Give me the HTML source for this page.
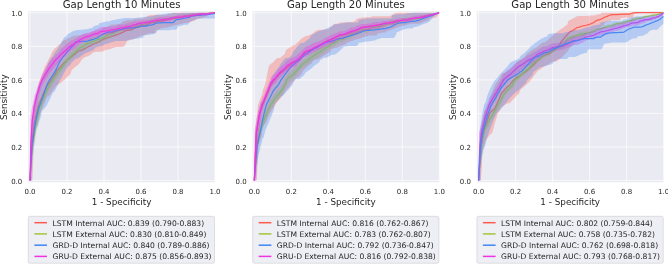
<!DOCTYPE html>
<html><head><meta charset="utf-8"><title>ROC curves</title>
<style>html,body{margin:0;padding:0;background:#fff}svg{display:block}text{font-family:"DejaVu Sans","Liberation Sans",sans-serif;fill:#262626}</style></head>
<body>
<svg width="668" height="264" viewBox="0 0 668 264">
<rect width="668" height="264" fill="#fff"/>
<defs><clipPath id="c0"><rect x="28.1" y="11.1" width="186.8" height="171.2"/></clipPath><clipPath id="c1"><rect x="252.5" y="11.1" width="186.8" height="171.2"/></clipPath><clipPath id="c2"><rect x="476.8" y="11.1" width="186.9" height="171.2"/></clipPath><filter id="bl" x="-5%" y="-5%" width="110%" height="110%"><feGaussianBlur stdDeviation="0.3"/></filter></defs>
<g>
<rect x="28.1" y="11.1" width="186.8" height="171.2" fill="#eaeaf2"/>
<path d="M30.0 11.1V182.3M28.1 180.6H215.0M67.0 11.1V182.3M28.1 147.0H215.0M104.0 11.1V182.3M28.1 113.4H215.0M141.0 11.1V182.3M28.1 79.9H215.0M178.0 11.1V182.3M28.1 46.3H215.0M215.0 11.1V182.3M28.1 12.7H215.0" stroke="#fff" stroke-width="0.7" fill="none" clip-path="url(#c0)"/>
<g clip-path="url(#c0)">
<polygon fill="#ff5a4d" fill-opacity="0.32" points="30.0,180.6 30.4,152.3 30.7,136.0 31.1,131.3 31.5,126.6 31.9,121.9 32.2,117.2 32.6,112.7 33.0,108.0 33.3,106.5 33.7,105.0 34.1,103.5 34.4,102.0 34.8,100.5 35.2,99.0 35.5,97.2 35.9,95.7 36.3,94.2 36.7,92.7 37.0,91.2 37.4,89.4 37.8,87.9 38.1,86.4 38.5,84.9 38.9,83.7 39.2,82.6 40.2,80.0 41.1,77.4 42.0,74.8 43.0,72.3 43.9,69.7 44.8,67.1 45.7,65.2 46.6,63.4 47.6,61.5 48.5,59.6 49.4,57.7 50.4,55.9 51.3,54.0 52.2,52.1 53.1,50.7 54.0,49.4 55.0,48.1 55.9,48.1 56.8,46.8 57.8,45.7 58.7,45.1 59.6,44.6 60.5,44.1 61.4,43.6 62.4,41.3 63.3,40.8 64.2,40.3 65.2,39.7 66.1,39.2 67.0,38.7 67.9,38.4 68.8,38.0 69.8,37.7 70.7,37.4 71.6,36.6 72.5,36.3 73.5,35.9 74.4,35.6 75.3,35.6 76.2,35.6 77.2,35.6 78.1,35.6 79.0,35.6 80.0,35.5 80.9,35.2 81.8,34.9 82.7,34.5 83.7,34.2 84.6,33.9 85.5,33.9 86.4,33.9 87.3,33.8 88.3,33.5 89.2,33.3 90.1,33.0 91.1,32.2 92.0,32.0 92.9,31.7 93.8,31.5 94.8,31.2 95.7,31.0 96.6,30.7 97.5,30.5 98.5,30.2 99.4,30.0 100.3,29.7 101.2,29.5 102.2,29.2 103.1,27.8 104.0,27.6 104.9,27.3 105.8,27.1 106.8,26.8 107.7,26.6 108.6,26.3 109.5,25.3 110.5,25.0 111.4,24.8 112.3,24.5 113.2,24.5 114.2,24.5 115.1,24.5 116.0,24.5 116.9,24.5 117.9,24.2 118.8,24.0 119.7,23.7 120.6,23.5 121.6,23.2 122.5,21.5 123.4,21.3 124.4,21.0 125.3,20.8 126.2,20.6 127.1,20.3 128.1,20.1 129.0,20.1 129.9,20.1 130.8,20.1 131.8,20.1 132.7,20.1 133.6,19.3 134.5,19.1 135.5,18.8 136.4,18.6 137.3,18.6 138.2,18.6 139.2,18.6 140.1,18.6 141.0,18.6 141.9,18.6 142.9,18.4 143.8,18.1 144.7,17.8 145.6,17.5 146.6,17.2 147.5,16.0 148.4,15.7 149.3,15.4 150.2,15.1 151.2,15.1 152.1,15.1 153.0,15.0 153.9,15.0 154.9,15.0 155.8,14.9 156.7,14.9 157.7,14.9 158.6,14.9 159.5,14.9 160.4,14.9 161.4,14.9 162.3,14.9 163.2,14.9 164.1,14.9 165.1,14.9 166.0,14.9 166.9,14.7 167.8,14.0 168.8,14.0 169.7,14.0 170.6,13.9 171.5,13.9 172.5,12.7 173.4,12.7 174.3,12.7 175.2,12.7 176.2,12.7 177.1,12.7 178.0,12.7 178.9,12.7 179.9,12.7 180.8,12.7 181.7,12.7 182.6,12.7 183.6,12.7 184.5,12.7 185.4,12.7 186.3,12.7 187.3,12.7 188.2,12.7 189.1,12.7 190.0,12.7 191.0,12.7 191.9,12.7 192.8,12.7 193.7,12.7 194.7,12.7 195.6,12.7 196.5,12.7 197.4,12.7 198.3,12.7 199.3,12.7 200.2,12.7 201.1,12.7 202.1,12.7 203.0,12.7 203.9,12.7 204.8,12.7 205.8,12.7 206.7,12.7 207.6,12.7 208.5,12.7 209.5,12.7 210.4,12.7 211.3,12.7 212.2,12.7 213.2,12.7 214.1,12.7 215.0,12.7 215.0,12.7 214.1,13.1 213.2,13.3 212.2,13.3 211.3,13.3 210.4,13.5 209.5,13.6 208.5,13.8 207.6,14.0 206.7,16.4 205.8,16.8 204.8,17.0 203.9,17.3 203.0,17.5 202.1,17.7 201.1,17.9 200.2,18.1 199.3,18.4 198.3,18.6 197.4,19.1 196.5,19.6 195.6,20.1 194.7,20.6 193.7,21.1 192.8,21.2 191.9,21.2 191.0,21.7 190.0,22.2 189.1,22.7 188.2,22.7 187.3,22.7 186.3,22.7 185.4,22.9 184.5,23.1 183.6,23.3 182.6,23.6 181.7,23.8 180.8,24.0 179.9,24.2 178.9,24.5 178.0,24.7 177.1,24.9 176.2,25.1 175.2,25.2 174.3,25.4 173.4,25.6 172.5,25.9 171.5,26.2 170.6,26.4 169.7,26.7 168.8,27.0 167.8,27.3 166.9,27.6 166.0,27.7 165.1,27.7 164.1,27.7 163.2,28.0 162.3,28.3 161.4,28.5 160.4,28.8 159.5,29.1 158.6,29.4 157.7,29.6 156.7,29.9 155.8,30.2 154.9,33.3 153.9,33.3 153.0,33.3 152.1,33.3 151.2,33.3 150.2,33.3 149.3,33.3 148.4,33.6 147.5,33.9 146.6,34.2 145.6,34.6 144.7,34.9 143.8,35.2 142.9,35.5 141.9,35.8 141.0,36.1 140.1,36.5 139.2,36.8 138.2,37.1 137.3,37.7 136.4,38.0 135.5,38.3 134.5,38.6 133.6,38.9 132.7,39.2 131.8,39.5 130.8,39.8 129.9,40.1 129.0,40.4 128.1,40.6 127.1,41.3 126.2,42.6 125.3,44.8 124.4,46.1 123.4,46.4 122.5,46.8 121.6,46.9 120.6,46.9 119.7,46.9 118.8,46.9 117.9,46.9 116.9,46.9 116.0,46.9 115.1,47.3 114.2,47.6 113.2,47.9 112.3,48.3 111.4,48.6 110.5,48.9 109.5,49.3 108.6,49.4 107.7,49.6 106.8,49.8 105.8,49.9 104.9,50.1 104.0,51.1 103.1,51.3 102.2,51.4 101.2,51.6 100.3,51.8 99.4,51.8 98.5,51.8 97.5,51.8 96.6,51.8 95.7,51.8 94.8,52.1 93.8,52.4 92.9,52.6 92.0,53.2 91.1,54.4 90.1,55.0 89.2,55.5 88.3,56.1 87.3,56.5 86.4,56.5 85.5,57.0 84.6,57.6 83.7,58.1 82.7,58.7 81.8,59.8 80.9,61.1 80.0,62.4 79.0,63.7 78.1,65.0 77.2,65.5 76.2,66.2 75.3,67.0 74.4,67.7 73.5,68.4 72.5,69.2 71.6,69.9 70.7,73.6 69.8,74.5 68.8,75.4 67.9,76.3 67.0,77.2 66.1,78.1 65.2,79.0 64.2,79.9 63.3,80.8 62.4,81.5 61.4,82.2 60.5,82.9 59.6,83.5 58.7,84.1 57.8,84.8 56.8,85.5 55.9,86.1 55.0,87.5 54.0,88.8 53.1,90.1 52.2,91.5 51.3,92.8 50.4,94.2 49.4,95.5 48.5,96.2 47.6,96.2 46.6,97.6 45.7,99.7 44.8,101.9 43.9,104.0 43.0,106.7 42.0,108.8 41.1,111.0 40.2,113.1 39.2,116.5 38.9,117.8 38.5,119.2 38.1,120.5 37.8,121.9 37.4,123.2 37.0,124.5 36.7,125.9 36.3,127.2 35.9,129.1 35.5,130.4 35.2,132.9 34.8,135.5 34.4,138.2 34.1,140.8 33.7,143.4 33.3,146.0 33.0,148.7 32.6,151.3 32.2,153.9 31.9,158.4 31.5,162.8 31.1,167.3 30.7,171.8 30.4,176.3 30.0,180.6"/>
<polyline fill="none" stroke="#ff5a4d" stroke-width="1.25" stroke-opacity="0.95" stroke-linejoin="round" filter="url(#bl)" points="30.0,180.6 30.4,172.2 30.7,163.8 31.1,155.4 31.5,147.0 31.9,144.0 32.2,141.1 32.6,138.1 33.0,135.1 33.3,132.2 33.7,129.2 34.1,126.2 34.4,123.2 34.8,120.9 35.2,119.2 35.5,117.3 35.9,115.8 36.3,114.1 36.7,112.5 37.0,110.8 37.4,109.1 37.8,107.4 38.1,106.1 38.5,104.8 38.9,104.0 39.2,103.2 40.2,101.1 41.1,99.1 42.0,97.0 43.0,94.3 43.9,92.3 44.8,90.2 45.7,88.7 46.6,86.6 47.6,85.2 48.5,83.8 49.4,82.4 50.4,81.1 51.3,79.7 52.2,78.3 53.1,77.2 54.0,75.8 55.0,74.4 55.9,73.0 56.8,71.0 57.8,69.6 58.7,68.7 59.6,67.8 60.5,66.7 61.4,65.8 62.4,64.8 63.3,63.8 64.2,62.8 65.2,61.9 66.1,61.2 67.0,60.2 67.9,59.5 68.8,58.9 69.8,58.1 70.7,57.3 71.6,56.6 72.5,55.8 73.5,55.1 74.4,54.4 75.3,53.7 76.2,52.9 77.2,52.0 78.1,51.5 79.0,51.0 80.0,50.5 80.9,50.5 81.8,50.1 82.7,49.6 83.7,49.1 84.6,48.6 85.5,48.3 86.4,47.8 87.3,47.3 88.3,46.8 89.2,46.3 90.1,45.9 91.1,45.2 92.0,44.8 92.9,44.3 93.8,43.9 94.8,43.5 95.7,43.3 96.6,42.9 97.5,42.5 98.5,42.0 99.4,41.6 100.3,40.7 101.2,40.2 102.2,39.8 103.1,39.4 104.0,38.9 104.9,38.6 105.8,38.3 106.8,38.1 107.7,37.8 108.6,37.5 109.5,37.1 110.5,36.8 111.4,36.5 112.3,36.2 113.2,35.9 114.2,35.6 115.1,35.3 116.0,35.1 116.9,34.7 117.9,34.3 118.8,34.0 119.7,33.6 120.6,33.1 121.6,32.8 122.5,32.4 123.4,32.0 124.4,31.4 125.3,31.1 126.2,30.7 127.1,30.4 128.1,30.4 129.0,30.4 129.9,30.2 130.8,29.9 131.8,29.6 132.7,29.3 133.6,28.4 134.5,28.1 135.5,27.8 136.4,27.5 137.3,27.1 138.2,26.8 139.2,26.8 140.1,26.6 141.0,26.3 141.9,26.0 142.9,25.8 143.8,25.5 144.7,25.5 145.6,25.3 146.6,25.1 147.5,24.8 148.4,23.6 149.3,23.4 150.2,23.1 151.2,22.9 152.1,22.6 153.0,22.4 153.9,22.4 154.9,22.2 155.8,21.9 156.7,21.7 157.7,21.4 158.6,21.3 159.5,21.1 160.4,21.1 161.4,21.1 162.3,21.0 163.2,20.8 164.1,20.6 165.1,20.4 166.0,20.2 166.9,19.6 167.8,19.4 168.8,19.2 169.7,19.0 170.6,18.8 171.5,18.7 172.5,18.5 173.4,18.5 174.3,18.4 175.2,18.2 176.2,18.0 177.1,17.8 178.0,17.7 178.9,17.5 179.9,17.5 180.8,17.4 181.7,17.2 182.6,16.3 183.6,16.1 184.5,16.0 185.4,15.9 186.3,15.9 187.3,15.9 188.2,15.8 189.1,15.8 190.0,15.8 191.0,15.8 191.9,15.8 192.8,15.7 193.7,15.5 194.7,15.4 195.6,14.9 196.5,14.7 197.4,14.6 198.3,14.5 199.3,14.4 200.2,14.3 201.1,14.1 202.1,14.0 203.0,13.9 203.9,13.9 204.8,13.9 205.8,13.9 206.7,13.9 207.6,13.7 208.5,13.6 209.5,13.4 210.4,13.3 211.3,13.2 212.2,13.0 213.2,12.9 214.1,12.8 215.0,12.7"/>
<polygon fill="#a4c639" fill-opacity="0.32" points="30.0,180.6 30.4,142.6 30.7,140.4 31.1,138.2 31.5,136.1 31.9,133.9 32.2,131.8 32.6,129.5 33.0,127.3 33.3,125.2 33.7,123.5 34.1,121.8 34.4,120.0 34.8,118.3 35.2,116.9 35.5,115.6 35.9,113.9 36.3,112.2 36.7,110.5 37.0,107.7 37.4,106.8 37.8,106.0 38.1,105.0 38.5,104.0 38.9,103.0 39.2,102.1 40.2,100.0 41.1,97.8 42.0,95.7 43.0,93.6 43.9,91.7 44.8,90.5 45.7,88.6 46.6,86.8 47.6,84.7 48.5,83.1 49.4,81.7 50.4,80.0 51.3,78.6 52.2,77.3 53.1,75.8 54.0,74.5 55.0,73.2 55.9,71.8 56.8,70.5 57.8,69.1 58.7,67.8 59.6,66.1 60.5,64.9 61.4,64.1 62.4,62.8 63.3,61.6 64.2,60.3 65.2,58.3 66.1,57.0 67.0,55.8 67.9,54.7 68.8,53.8 69.8,52.9 70.7,52.0 71.6,51.4 72.5,50.6 73.5,49.7 74.4,48.8 75.3,47.9 76.2,47.0 77.2,46.3 78.1,45.6 79.0,45.2 80.0,44.4 80.9,43.7 81.8,43.7 82.7,43.1 83.7,42.5 84.6,41.3 85.5,40.9 86.4,40.9 87.3,40.5 88.3,40.1 89.2,38.9 90.1,38.5 91.1,38.1 92.0,38.0 92.9,37.6 93.8,37.2 94.8,37.2 95.7,37.2 96.6,37.0 97.5,36.6 98.5,36.4 99.4,36.1 100.3,35.7 101.2,35.4 102.2,35.0 103.1,34.5 104.0,34.2 104.9,33.4 105.8,33.0 106.8,32.7 107.7,32.3 108.6,31.9 109.5,31.4 110.5,31.3 111.4,30.9 112.3,30.6 113.2,30.3 114.2,29.9 115.1,29.5 116.0,28.6 116.9,28.0 117.9,27.7 118.8,27.4 119.7,27.1 120.6,26.8 121.6,26.6 122.5,26.3 123.4,26.0 124.4,25.7 125.3,25.4 126.2,25.2 127.1,25.2 128.1,25.0 129.0,24.7 129.9,24.7 130.8,24.7 131.8,24.7 132.7,24.5 133.6,24.5 134.5,24.5 135.5,24.5 136.4,23.9 137.3,23.6 138.2,23.0 139.2,22.8 140.1,22.6 141.0,22.1 141.9,21.9 142.9,21.7 143.8,21.6 144.7,21.4 145.6,21.2 146.6,21.0 147.5,20.8 148.4,20.4 149.3,19.9 150.2,19.7 151.2,19.7 152.1,19.7 153.0,19.5 153.9,19.3 154.9,19.1 155.8,18.8 156.7,18.6 157.7,18.6 158.6,18.6 159.5,18.6 160.4,18.5 161.4,18.3 162.3,18.2 163.2,18.0 164.1,17.8 165.1,17.7 166.0,17.7 166.9,17.7 167.8,17.7 168.8,17.1 169.7,16.9 170.6,16.8 171.5,16.6 172.5,16.2 173.4,16.0 174.3,15.9 175.2,15.7 176.2,15.6 177.1,15.4 178.0,15.4 178.9,15.4 179.9,15.4 180.8,15.4 181.7,15.4 182.6,15.3 183.6,15.2 184.5,14.5 185.4,14.4 186.3,14.3 187.3,13.8 188.2,13.7 189.1,13.7 190.0,13.6 191.0,13.5 191.9,13.4 192.8,13.3 193.7,13.3 194.7,13.3 195.6,13.3 196.5,13.3 197.4,13.1 198.3,13.0 199.3,13.0 200.2,12.7 201.1,12.7 202.1,12.7 203.0,12.7 203.9,12.7 204.8,12.7 205.8,12.7 206.7,12.7 207.6,12.7 208.5,12.7 209.5,12.7 210.4,12.7 211.3,12.7 212.2,12.7 213.2,12.7 214.1,12.7 215.0,12.7 215.0,13.0 214.1,13.1 213.2,13.2 212.2,13.4 211.3,13.6 210.4,13.7 209.5,13.8 208.5,13.8 207.6,13.8 206.7,13.8 205.8,13.9 204.8,14.0 203.9,14.1 203.0,14.1 202.1,14.1 201.1,14.3 200.2,14.7 199.3,14.9 198.3,15.0 197.4,15.1 196.5,15.6 195.6,16.1 194.7,16.1 193.7,16.1 192.8,16.2 191.9,16.3 191.0,16.5 190.0,16.9 189.1,17.1 188.2,17.2 187.3,17.3 186.3,17.4 185.4,17.5 184.5,17.5 183.6,17.5 182.6,17.7 181.7,17.8 180.8,19.0 179.9,19.1 178.9,19.1 178.0,19.1 177.1,19.1 176.2,19.3 175.2,19.5 174.3,19.8 173.4,19.8 172.5,19.8 171.5,19.8 170.6,19.8 169.7,20.0 168.8,20.2 167.8,20.5 166.9,20.6 166.0,20.6 165.1,20.8 164.1,21.0 163.2,21.2 162.3,21.4 161.4,21.6 160.4,22.9 159.5,23.1 158.6,23.2 157.7,23.4 156.7,23.5 155.8,23.5 154.9,23.8 153.9,24.1 153.0,24.3 152.1,24.4 151.2,24.4 150.2,24.4 149.3,24.7 148.4,24.9 147.5,25.4 146.6,25.6 145.6,25.8 144.7,26.0 143.8,26.6 142.9,26.8 141.9,27.1 141.0,27.3 140.1,27.6 139.2,27.8 138.2,28.1 137.3,28.2 136.4,28.5 135.5,28.7 134.5,28.7 133.6,28.9 132.7,29.2 131.8,29.5 130.8,30.6 129.9,30.6 129.0,30.6 128.1,30.6 127.1,30.6 126.2,30.6 125.3,30.8 124.4,31.1 123.4,31.5 122.5,31.8 121.6,32.2 120.6,32.5 119.7,32.8 118.8,33.3 117.9,33.6 116.9,34.0 116.0,34.7 115.1,35.1 114.2,35.5 113.2,36.2 112.3,36.6 111.4,37.0 110.5,37.9 109.5,38.0 108.6,38.4 107.7,38.8 106.8,39.3 105.8,39.7 104.9,40.2 104.0,41.0 103.1,41.4 102.2,41.8 101.2,42.2 100.3,42.6 99.4,42.9 98.5,43.3 97.5,43.4 96.6,43.8 95.7,43.9 94.8,43.9 93.8,43.9 92.9,44.3 92.0,44.7 91.1,45.2 90.1,45.6 89.2,46.0 88.3,46.3 87.3,46.7 86.4,48.2 85.5,48.6 84.6,49.0 83.7,50.3 82.7,50.3 81.8,50.3 80.9,50.3 80.0,51.1 79.0,51.9 78.1,52.6 77.2,53.4 76.2,55.5 75.3,56.4 74.4,57.3 73.5,57.3 72.5,58.3 71.6,59.2 70.7,60.1 69.8,61.0 68.8,62.0 67.9,62.9 67.0,63.9 66.1,65.2 65.2,66.5 64.2,68.2 63.3,69.5 62.4,70.8 61.4,72.1 60.5,72.9 59.6,74.7 58.7,76.1 57.8,77.5 56.8,78.8 55.9,80.3 55.0,81.6 54.0,83.0 53.1,84.1 52.2,85.5 51.3,86.8 50.4,88.2 49.4,89.9 48.5,91.4 47.6,93.4 46.6,95.3 45.7,98.4 44.8,100.5 43.9,102.7 43.0,104.5 42.0,106.9 41.1,109.9 40.2,114.2 39.2,118.5 38.9,120.2 38.5,121.9 38.1,124.0 37.8,125.7 37.4,127.8 37.0,129.9 36.7,132.2 36.3,133.4 35.9,135.6 35.5,137.8 35.2,140.4 34.8,142.6 34.4,144.8 34.1,146.9 33.7,153.6 33.3,160.4 33.0,167.1 32.6,173.8 32.2,180.6 31.9,180.6 31.5,180.6 31.1,180.6 30.7,180.6 30.4,180.6 30.0,180.6"/>
<polyline fill="none" stroke="#a4c639" stroke-width="1.25" stroke-opacity="0.95" stroke-linejoin="round" filter="url(#bl)" points="30.0,180.6 30.4,173.8 30.7,167.1 31.1,160.4 31.5,153.7 31.9,147.0 32.2,144.9 32.6,142.7 33.0,140.5 33.3,138.3 33.7,136.2 34.1,134.0 34.4,131.8 34.8,129.6 35.2,127.4 35.5,125.3 35.9,123.6 36.3,121.9 36.7,120.2 37.0,118.5 37.4,116.7 37.8,115.0 38.1,113.3 38.5,111.6 38.9,109.9 39.2,108.2 40.2,106.0 41.1,103.4 42.0,101.3 43.0,99.1 43.9,97.0 44.8,94.8 45.7,93.0 46.6,90.8 47.6,88.7 48.5,87.1 49.4,85.7 50.4,84.0 51.3,82.6 52.2,81.3 53.1,79.9 54.0,78.5 55.0,77.2 55.9,75.8 56.8,74.4 57.8,73.1 58.7,71.7 59.6,70.4 60.5,69.1 61.4,68.3 62.4,67.0 63.3,65.7 64.2,64.5 65.2,62.8 66.1,61.6 67.0,60.3 67.9,59.2 68.8,58.2 69.8,57.3 70.7,56.4 71.6,55.6 72.5,54.6 73.5,53.7 74.4,52.8 75.3,51.9 76.2,51.0 77.2,50.2 78.1,49.5 79.0,48.8 80.0,48.0 80.9,47.3 81.8,47.3 82.7,46.7 83.7,46.2 84.6,45.0 85.5,44.6 86.4,44.1 87.3,43.7 88.3,43.3 89.2,43.1 90.1,42.7 91.1,42.2 92.0,41.8 92.9,41.4 93.8,41.0 94.8,40.8 95.7,40.4 96.6,40.0 97.5,39.7 98.5,39.5 99.4,39.1 100.3,38.8 101.2,38.4 102.2,38.0 103.1,37.6 104.0,37.3 104.9,36.5 105.8,36.1 106.8,35.7 107.7,35.3 108.6,34.9 109.5,34.5 110.5,34.3 111.4,33.9 112.3,33.5 113.2,33.1 114.2,32.7 115.1,32.3 116.0,31.9 116.9,31.3 117.9,31.0 118.8,30.6 119.7,30.3 120.6,30.0 121.6,29.7 122.5,29.4 123.4,29.1 124.4,28.7 125.3,28.5 126.2,28.2 127.1,28.0 128.1,27.7 129.0,27.5 129.9,27.5 130.8,27.5 131.8,27.5 132.7,27.2 133.6,27.0 134.5,26.7 135.5,26.5 136.4,26.2 137.3,26.0 138.2,25.3 139.2,25.1 140.1,24.8 141.0,24.6 141.9,24.4 142.9,24.2 143.8,24.0 144.7,23.6 145.6,23.4 146.6,23.2 147.5,23.0 148.4,22.6 149.3,22.4 150.2,22.2 151.2,22.2 152.1,22.2 153.0,22.0 153.9,21.8 154.9,21.6 155.8,21.2 156.7,21.0 157.7,20.8 158.6,20.6 159.5,20.5 160.4,20.3 161.4,20.1 162.3,20.0 163.2,19.8 164.1,19.6 165.1,19.4 166.0,19.4 166.9,19.4 167.8,19.4 168.8,18.6 169.7,18.4 170.6,18.3 171.5,18.1 172.5,18.1 173.4,17.9 174.3,17.7 175.2,17.6 176.2,17.4 177.1,17.2 178.0,17.2 178.9,17.2 179.9,17.2 180.8,17.1 181.7,17.0 182.6,16.9 183.6,16.8 184.5,15.9 185.4,15.7 186.3,15.6 187.3,15.5 188.2,15.4 189.1,15.3 190.0,15.2 191.0,15.1 191.9,15.0 192.8,14.9 193.7,14.8 194.7,14.8 195.6,14.8 196.5,14.8 197.4,14.5 198.3,14.4 199.3,14.2 200.2,14.1 201.1,14.0 202.1,13.9 203.0,13.9 203.9,13.9 204.8,13.9 205.8,13.8 206.7,13.6 207.6,13.5 208.5,13.4 209.5,13.4 210.4,13.3 211.3,13.2 212.2,13.1 213.2,12.9 214.1,12.8 215.0,12.7"/>
<polygon fill="#4285f4" fill-opacity="0.32" points="30.0,180.6 30.4,159.5 30.7,138.5 31.1,134.3 31.5,130.1 31.9,125.9 32.2,121.7 32.6,117.5 33.0,113.3 33.3,109.3 33.7,105.1 34.1,103.6 34.4,102.2 34.8,100.5 35.2,99.0 35.5,96.7 35.9,95.3 36.3,93.8 36.7,92.4 37.0,90.9 37.4,89.5 37.8,88.0 38.1,86.5 38.5,86.5 38.9,85.3 39.2,83.8 40.2,81.8 41.1,79.8 42.0,77.8 43.0,75.8 43.9,73.7 44.8,71.7 45.7,69.7 46.6,67.7 47.6,65.7 48.5,62.4 49.4,61.0 50.4,59.7 51.3,58.3 52.2,57.0 53.1,55.6 54.0,53.9 55.0,52.5 55.9,51.2 56.8,49.8 57.8,48.5 58.7,46.9 59.6,45.3 60.5,43.7 61.4,42.1 62.4,40.5 63.3,38.9 64.2,37.3 65.2,37.3 66.1,36.6 67.0,35.0 67.9,34.3 68.8,33.6 69.8,33.0 70.7,32.4 71.6,32.0 72.5,31.6 73.5,31.1 74.4,30.7 75.3,30.6 76.2,30.2 77.2,30.1 78.1,30.0 79.0,29.9 80.0,29.8 80.9,29.7 81.8,29.7 82.7,29.6 83.7,29.5 84.6,29.4 85.5,29.3 86.4,29.3 87.3,29.1 88.3,28.9 89.2,28.6 90.1,28.4 91.1,28.1 92.0,27.9 92.9,27.6 93.8,26.1 94.8,25.9 95.7,25.6 96.6,25.4 97.5,25.1 98.5,24.9 99.4,23.3 100.3,23.0 101.2,22.8 102.2,22.5 103.1,22.3 104.0,22.0 104.9,21.9 105.8,21.8 106.8,21.6 107.7,21.5 108.6,21.4 109.5,21.3 110.5,21.1 111.4,20.3 112.3,20.2 113.2,20.1 114.2,19.9 115.1,19.8 116.0,19.7 116.9,19.3 117.9,19.2 118.8,19.0 119.7,18.9 120.6,18.7 121.6,18.6 122.5,18.4 123.4,18.3 124.4,18.1 125.3,18.1 126.2,18.0 127.1,18.0 128.1,18.0 129.0,18.0 129.9,18.0 130.8,18.0 131.8,18.0 132.7,18.0 133.6,18.0 134.5,18.0 135.5,18.0 136.4,18.0 137.3,17.7 138.2,17.6 139.2,17.5 140.1,17.4 141.0,17.3 141.9,17.2 142.9,17.2 143.8,17.1 144.7,16.8 145.6,16.8 146.6,16.7 147.5,16.6 148.4,16.5 149.3,16.4 150.2,16.3 151.2,16.2 152.1,16.2 153.0,16.1 153.9,16.0 154.9,15.0 155.8,14.9 156.7,14.8 157.7,14.6 158.6,14.5 159.5,14.5 160.4,14.4 161.4,14.2 162.3,14.1 163.2,14.0 164.1,13.8 165.1,13.7 166.0,13.5 166.9,13.4 167.8,13.2 168.8,13.1 169.7,13.1 170.6,13.1 171.5,13.1 172.5,13.1 173.4,13.1 174.3,13.1 175.2,13.1 176.2,13.1 177.1,13.1 178.0,13.1 178.9,13.1 179.9,13.1 180.8,13.1 181.7,12.7 182.6,12.7 183.6,12.7 184.5,12.7 185.4,12.7 186.3,12.7 187.3,12.7 188.2,12.7 189.1,12.7 190.0,12.7 191.0,12.7 191.9,12.7 192.8,12.7 193.7,12.7 194.7,12.7 195.6,12.7 196.5,12.7 197.4,12.7 198.3,12.7 199.3,12.7 200.2,12.7 201.1,12.7 202.1,12.7 203.0,12.7 203.9,12.7 204.8,12.7 205.8,12.7 206.7,12.7 207.6,12.7 208.5,12.7 209.5,12.7 210.4,12.7 211.3,12.7 212.2,12.7 213.2,12.7 214.1,12.7 215.0,12.7 215.0,18.5 214.1,18.5 213.2,18.5 212.2,18.5 211.3,18.5 210.4,18.5 209.5,18.5 208.5,18.5 207.6,18.5 206.7,18.5 205.8,18.5 204.8,18.5 203.9,18.5 203.0,18.7 202.1,18.7 201.1,18.7 200.2,18.7 199.3,18.7 198.3,18.7 197.4,18.7 196.5,19.1 195.6,19.5 194.7,19.9 193.7,20.2 192.8,20.6 191.9,21.0 191.0,21.4 190.0,22.0 189.1,22.6 188.2,24.5 187.3,24.8 186.3,24.8 185.4,24.8 184.5,24.8 183.6,25.0 182.6,25.3 181.7,25.5 180.8,25.7 179.9,26.0 178.9,26.2 178.0,26.4 177.1,28.4 176.2,29.8 175.2,29.8 174.3,29.8 173.4,29.8 172.5,29.8 171.5,29.8 170.6,29.8 169.7,30.2 168.8,30.2 167.8,30.2 166.9,30.2 166.0,30.2 165.1,30.2 164.1,30.2 163.2,30.2 162.3,30.2 161.4,30.2 160.4,30.2 159.5,30.2 158.6,30.2 157.7,30.2 156.7,31.7 155.8,33.2 154.9,33.3 153.9,34.1 153.0,34.2 152.1,34.3 151.2,34.5 150.2,34.6 149.3,34.7 148.4,34.9 147.5,35.0 146.6,35.1 145.6,35.3 144.7,35.4 143.8,35.6 142.9,37.8 141.9,37.9 141.0,38.0 140.1,38.2 139.2,38.3 138.2,38.4 137.3,38.5 136.4,38.7 135.5,38.8 134.5,39.0 133.6,39.2 132.7,39.4 131.8,39.6 130.8,39.6 129.9,39.8 129.0,40.0 128.1,40.2 127.1,40.5 126.2,40.7 125.3,40.9 124.4,41.1 123.4,41.1 122.5,41.1 121.6,41.1 120.6,41.1 119.7,41.1 118.8,41.1 117.9,41.1 116.9,41.1 116.0,41.1 115.1,41.1 114.2,41.4 113.2,41.7 112.3,42.0 111.4,42.3 110.5,42.6 109.5,42.9 108.6,43.2 107.7,43.5 106.8,43.8 105.8,44.1 104.9,44.3 104.0,44.6 103.1,45.6 102.2,46.0 101.2,46.3 100.3,46.3 99.4,46.3 98.5,46.6 97.5,46.9 96.6,47.3 95.7,47.6 94.8,47.9 93.8,50.0 92.9,50.4 92.0,50.7 91.1,51.0 90.1,51.4 89.2,51.7 88.3,52.0 87.3,52.4 86.4,52.7 85.5,53.1 84.6,53.7 83.7,54.3 82.7,54.9 81.8,55.6 80.9,56.3 80.0,56.9 79.0,57.6 78.1,58.3 77.2,58.4 76.2,58.4 75.3,59.2 74.4,60.1 73.5,60.9 72.5,61.8 71.6,62.6 70.7,64.4 69.8,65.2 68.8,66.0 67.9,66.9 67.0,67.7 66.1,69.3 65.2,70.8 64.2,72.4 63.3,73.9 62.4,76.3 61.4,77.9 60.5,79.4 59.6,81.1 58.7,83.0 57.8,84.9 56.8,86.8 55.9,88.7 55.0,90.6 54.0,92.3 53.1,92.3 52.2,94.2 51.3,96.1 50.4,98.0 49.4,99.9 48.5,101.8 47.6,103.7 46.6,105.6 45.7,107.0 44.8,108.0 43.9,109.1 43.0,110.1 42.0,111.1 41.1,115.4 40.2,118.5 39.2,121.5 38.9,122.8 38.5,124.0 38.1,125.2 37.8,126.4 37.4,126.6 37.0,126.6 36.7,127.8 36.3,129.0 35.9,130.2 35.5,132.9 35.2,136.0 34.8,139.0 34.4,141.9 34.1,144.9 33.7,147.9 33.3,150.7 33.0,153.6 32.6,156.8 32.2,160.2 31.9,163.5 31.5,166.9 31.1,170.3 30.7,173.6 30.4,177.0 30.0,180.6"/>
<polyline fill="none" stroke="#4285f4" stroke-width="1.25" stroke-opacity="0.95" stroke-linejoin="round" filter="url(#bl)" points="30.0,180.6 30.4,173.9 30.7,167.2 31.1,160.4 31.5,153.7 31.9,147.0 32.2,144.5 32.6,142.0 33.0,139.5 33.3,136.9 33.7,134.4 34.1,132.0 34.4,129.5 34.8,126.9 35.2,124.4 35.5,122.2 35.9,120.2 36.3,118.6 36.7,117.0 37.0,115.5 37.4,113.9 37.8,112.3 38.1,110.7 38.5,109.2 38.9,107.7 39.2,106.7 40.2,104.1 41.1,101.6 42.0,99.0 43.0,96.4 43.9,93.8 44.8,91.2 45.7,88.6 46.6,86.0 47.6,83.4 48.5,81.7 49.4,80.2 50.4,78.8 51.3,77.3 52.2,75.8 53.1,74.6 54.0,73.2 55.0,71.7 55.9,69.9 56.8,68.0 57.8,65.6 58.7,63.7 59.6,61.7 60.5,60.5 61.4,59.4 62.4,57.9 63.3,56.7 64.2,55.6 65.2,54.4 66.1,53.3 67.0,52.2 67.9,51.0 68.8,50.2 69.8,49.1 70.7,48.0 71.6,47.2 72.5,46.1 73.5,45.0 74.4,43.9 75.3,42.7 76.2,41.6 77.2,41.6 78.1,41.6 79.0,41.5 80.0,41.5 80.9,41.5 81.8,41.4 82.7,41.4 83.7,41.3 84.6,41.3 85.5,41.3 86.4,41.3 87.3,41.2 88.3,40.7 89.2,40.6 90.1,40.3 91.1,39.9 92.0,39.5 92.9,39.5 93.8,39.1 94.8,38.8 95.7,38.4 96.6,38.1 97.5,37.8 98.5,37.2 99.4,36.2 100.3,35.7 101.2,35.2 102.2,34.6 103.1,34.1 104.0,33.5 104.9,33.3 105.8,33.1 106.8,32.6 107.7,32.4 108.6,32.2 109.5,32.2 110.5,32.2 111.4,32.2 112.3,32.2 113.2,31.3 114.2,31.1 115.1,30.9 116.0,30.7 116.9,30.4 117.9,30.0 118.8,29.7 119.7,29.7 120.6,29.7 121.6,29.4 122.5,29.1 123.4,28.8 124.4,28.4 125.3,28.3 126.2,28.2 127.1,28.2 128.1,28.2 129.0,28.2 129.9,28.1 130.8,27.9 131.8,27.9 132.7,27.8 133.6,27.8 134.5,27.7 135.5,27.6 136.4,27.3 137.3,27.1 138.2,26.9 139.2,26.6 140.1,26.4 141.0,26.2 141.9,26.2 142.9,26.2 143.8,26.2 144.7,26.2 145.6,26.2 146.6,26.2 147.5,25.3 148.4,25.3 149.3,25.2 150.2,25.1 151.2,25.1 152.1,25.0 153.0,24.7 153.9,24.4 154.9,23.7 155.8,23.4 156.7,23.2 157.7,22.9 158.6,22.9 159.5,22.9 160.4,22.9 161.4,22.9 162.3,22.7 163.2,22.7 164.1,22.7 165.1,22.7 166.0,22.7 166.9,22.7 167.8,22.7 168.8,22.7 169.7,22.7 170.6,22.7 171.5,22.7 172.5,22.7 173.4,22.5 174.3,21.5 175.2,20.6 176.2,19.6 177.1,19.6 178.0,19.5 178.9,19.3 179.9,19.2 180.8,19.0 181.7,18.9 182.6,18.5 183.6,18.3 184.5,18.1 185.4,18.0 186.3,17.9 187.3,17.7 188.2,17.5 189.1,17.3 190.0,17.1 191.0,16.2 191.9,16.0 192.8,15.9 193.7,15.9 194.7,15.9 195.6,15.7 196.5,15.5 197.4,15.4 198.3,15.4 199.3,15.4 200.2,15.3 201.1,15.2 202.1,15.0 203.0,14.9 203.9,14.8 204.8,14.7 205.8,14.6 206.7,14.6 207.6,14.6 208.5,14.5 209.5,14.3 210.4,14.2 211.3,14.0 212.2,13.8 213.2,13.7 214.1,13.5 215.0,13.4"/>
<polygon fill="#f032e6" fill-opacity="0.32" points="30.0,180.6 30.4,118.1 30.7,115.6 31.1,113.1 31.5,110.6 31.9,108.0 32.2,106.3 32.6,104.7 33.0,103.0 33.3,101.0 33.7,99.5 34.1,97.9 34.4,96.3 34.8,94.6 35.2,93.8 35.5,93.1 35.9,92.0 36.3,90.9 36.7,89.2 37.0,88.2 37.4,87.1 37.8,86.0 38.1,85.0 38.5,83.6 38.9,82.7 39.2,81.5 40.2,78.9 41.1,76.7 42.0,74.1 43.0,72.9 43.9,71.0 44.8,69.5 45.7,68.1 46.6,66.1 47.6,64.6 48.5,63.1 49.4,61.9 50.4,60.6 51.3,59.3 52.2,58.1 53.1,57.2 54.0,57.1 55.0,55.9 55.9,54.8 56.8,54.1 57.8,53.2 58.7,52.3 59.6,51.2 60.5,49.5 61.4,48.6 62.4,47.7 63.3,46.9 64.2,46.0 65.2,45.3 66.1,44.6 67.0,43.5 67.9,43.1 68.8,42.4 69.8,41.7 70.7,40.9 71.6,40.3 72.5,40.2 73.5,39.9 74.4,39.3 75.3,38.7 76.2,38.0 77.2,37.6 78.1,37.2 79.0,36.0 80.0,35.5 80.9,35.1 81.8,34.6 82.7,34.2 83.7,33.8 84.6,33.4 85.5,33.0 86.4,33.0 87.3,32.8 88.3,32.8 89.2,32.6 90.1,32.2 91.1,31.9 92.0,31.3 92.9,31.0 93.8,30.6 94.8,30.2 95.7,29.3 96.6,29.2 97.5,28.9 98.5,28.7 99.4,27.8 100.3,27.6 101.2,27.3 102.2,27.1 103.1,26.9 104.0,26.9 104.9,26.9 105.8,26.9 106.8,26.9 107.7,26.9 108.6,26.9 109.5,26.8 110.5,26.4 111.4,26.4 112.3,26.4 113.2,26.4 114.2,26.4 115.1,26.3 116.0,25.9 116.9,25.0 117.9,24.8 118.8,24.6 119.7,24.6 120.6,24.6 121.6,24.6 122.5,24.6 123.4,24.6 124.4,24.6 125.3,23.9 126.2,23.7 127.1,23.5 128.1,23.3 129.0,23.1 129.9,22.6 130.8,22.4 131.8,22.2 132.7,21.7 133.6,21.5 134.5,21.3 135.5,21.3 136.4,21.3 137.3,21.2 138.2,21.0 139.2,20.8 140.1,20.6 141.0,20.4 141.9,20.4 142.9,20.2 143.8,20.2 144.7,20.2 145.6,20.1 146.6,20.1 147.5,20.1 148.4,20.0 149.3,19.9 150.2,19.6 151.2,19.4 152.1,19.3 153.0,19.2 153.9,18.4 154.9,18.1 155.8,18.0 156.7,17.9 157.7,17.8 158.6,17.6 159.5,17.0 160.4,16.9 161.4,16.9 162.3,16.9 163.2,16.8 164.1,16.7 165.1,16.7 166.0,16.6 166.9,16.4 167.8,16.4 168.8,16.4 169.7,16.4 170.6,16.4 171.5,16.4 172.5,16.4 173.4,16.2 174.3,16.1 175.2,15.9 176.2,15.8 177.1,15.7 178.0,14.6 178.9,14.6 179.9,14.6 180.8,14.6 181.7,14.6 182.6,14.6 183.6,14.6 184.5,14.6 185.4,14.6 186.3,14.6 187.3,14.5 188.2,14.4 189.1,13.7 190.0,13.6 191.0,13.5 191.9,13.4 192.8,13.2 193.7,13.1 194.7,13.1 195.6,13.0 196.5,12.9 197.4,12.8 198.3,12.7 199.3,12.7 200.2,12.7 201.1,12.7 202.1,12.7 203.0,12.7 203.9,12.7 204.8,12.7 205.8,12.7 206.7,12.7 207.6,12.7 208.5,12.7 209.5,12.7 210.4,12.7 211.3,12.7 212.2,12.7 213.2,12.7 214.1,12.7 215.0,12.7 215.0,12.9 214.1,13.1 213.2,13.4 212.2,13.6 211.3,13.8 210.4,14.0 209.5,14.7 208.5,14.9 207.6,15.2 206.7,15.4 205.8,15.5 204.8,15.5 203.9,15.5 203.0,15.5 202.1,15.6 201.1,15.6 200.2,15.6 199.3,15.7 198.3,15.9 197.4,16.0 196.5,16.0 195.6,16.0 194.7,16.2 193.7,16.3 192.8,16.5 191.9,16.8 191.0,17.7 190.0,17.8 189.1,17.8 188.2,17.8 187.3,17.8 186.3,17.9 185.4,17.9 184.5,18.1 183.6,18.2 182.6,18.9 181.7,18.9 180.8,18.9 179.9,18.9 178.9,18.9 178.0,18.9 177.1,18.9 176.2,19.0 175.2,19.2 174.3,19.4 173.4,20.2 172.5,20.4 171.5,20.6 170.6,21.5 169.7,21.5 168.8,21.5 167.8,21.5 166.9,21.5 166.0,21.5 165.1,21.5 164.1,21.5 163.2,21.5 162.3,21.7 161.4,21.7 160.4,21.7 159.5,21.9 158.6,22.0 157.7,22.2 156.7,22.4 155.8,22.9 154.9,23.1 153.9,23.5 153.0,23.6 152.1,23.8 151.2,24.0 150.2,24.1 149.3,24.3 148.4,24.5 147.5,24.6 146.6,24.8 145.6,25.0 144.7,25.1 143.8,25.2 142.9,25.2 141.9,26.2 141.0,26.3 140.1,26.6 139.2,26.7 138.2,26.7 137.3,26.7 136.4,27.3 135.5,27.5 134.5,27.7 133.6,28.0 132.7,28.2 131.8,29.1 130.8,29.3 129.9,29.6 129.0,29.8 128.1,30.0 127.1,30.3 126.2,30.4 125.3,30.7 124.4,30.9 123.4,31.0 122.5,31.0 121.6,31.0 120.6,31.1 119.7,31.1 118.8,31.4 117.9,31.6 116.9,31.9 116.0,32.2 115.1,32.6 114.2,33.5 113.2,33.5 112.3,33.5 111.4,33.5 110.5,33.5 109.5,34.1 108.6,34.2 107.7,34.4 106.8,34.5 105.8,34.7 104.9,34.8 104.0,34.8 103.1,34.8 102.2,35.1 101.2,35.3 100.3,35.6 99.4,35.9 98.5,36.8 97.5,36.8 96.6,37.1 95.7,37.2 94.8,37.2 93.8,37.6 92.9,38.1 92.0,38.5 91.1,38.9 90.1,39.3 89.2,39.7 88.3,40.0 87.3,40.0 86.4,40.4 85.5,40.8 84.6,41.2 83.7,41.7 82.7,42.2 81.8,42.7 80.9,43.6 80.0,44.1 79.0,44.6 78.1,45.9 77.2,46.3 76.2,46.8 75.3,47.9 74.4,48.6 73.5,49.3 72.5,50.0 71.6,50.2 70.7,50.8 69.8,51.5 68.8,52.4 67.9,53.2 67.0,54.0 66.1,55.2 65.2,56.0 64.2,56.8 63.3,57.3 62.4,58.2 61.4,59.2 60.5,60.1 59.6,61.1 58.7,62.4 57.8,63.3 56.8,64.3 55.9,65.6 55.0,66.7 54.0,68.1 53.1,69.4 52.2,70.4 51.3,70.9 50.4,72.2 49.4,73.5 48.5,74.8 47.6,76.4 46.6,77.9 45.7,79.4 44.8,80.8 43.9,82.3 43.0,84.3 42.0,85.8 41.1,88.5 40.2,92.0 39.2,94.4 38.9,96.0 38.5,97.7 38.1,99.3 37.8,101.0 37.4,102.9 37.0,104.8 36.7,106.5 36.3,108.1 35.9,110.7 35.5,113.2 35.2,115.7 34.8,118.2 34.4,120.7 34.1,125.6 33.7,132.8 33.3,140.0 33.0,147.2 32.6,163.8 32.2,180.5 31.9,180.5 31.5,180.6 31.1,180.6 30.7,180.6 30.4,180.6 30.0,180.6"/>
<polyline fill="none" stroke="#f032e6" stroke-width="1.25" stroke-opacity="0.95" stroke-linejoin="round" filter="url(#bl)" points="30.0,180.6 30.4,163.9 30.7,147.1 31.1,139.9 31.5,132.7 31.9,125.5 32.2,120.6 32.6,118.1 33.0,115.6 33.3,113.1 33.7,110.6 34.1,108.1 34.4,106.4 34.8,104.8 35.2,103.1 35.5,101.1 35.9,99.5 36.3,97.8 36.7,96.2 37.0,94.5 37.4,93.8 37.8,92.7 38.1,91.6 38.5,90.5 38.9,88.8 39.2,87.7 40.2,85.0 41.1,82.8 42.0,80.1 43.0,78.7 43.9,76.8 44.8,75.3 45.7,73.8 46.6,72.4 47.6,70.9 48.5,69.3 49.4,68.1 50.4,66.8 51.3,65.5 52.2,64.2 53.1,63.3 54.0,62.0 55.0,60.7 55.9,59.6 56.8,58.8 57.8,57.9 58.7,57.0 59.6,55.8 60.5,54.9 61.4,53.9 62.4,53.0 63.3,52.2 64.2,51.6 65.2,50.8 66.1,50.1 67.0,49.0 67.9,48.2 68.8,47.4 69.8,46.6 70.7,45.9 71.6,45.2 72.5,45.1 73.5,44.4 74.4,43.7 75.3,43.0 76.2,42.4 77.2,41.9 78.1,41.5 79.0,40.2 80.0,39.8 80.9,39.3 81.8,38.9 82.7,38.4 83.7,38.0 84.6,37.5 85.5,37.1 86.4,36.8 87.3,36.4 88.3,36.4 89.2,36.1 90.1,35.7 91.1,35.3 92.0,34.9 92.9,34.5 93.8,34.2 94.8,33.8 95.7,33.8 96.6,33.7 97.5,33.4 98.5,33.2 99.4,32.2 100.3,31.9 101.2,31.7 102.2,31.4 103.1,31.2 104.0,31.2 104.9,31.2 105.8,31.1 106.8,31.0 107.7,30.8 108.6,30.7 109.5,30.5 110.5,30.0 111.4,29.9 112.3,29.7 113.2,29.7 114.2,29.5 115.1,29.4 116.0,29.0 116.9,28.8 117.9,28.5 118.8,28.3 119.7,28.0 120.6,28.0 121.6,27.9 122.5,27.7 123.4,27.7 124.4,27.6 125.3,27.4 126.2,27.1 127.1,26.9 128.1,26.7 129.0,26.5 129.9,26.3 130.8,26.1 131.8,25.8 132.7,25.3 133.6,25.0 134.5,24.8 135.5,24.6 136.4,24.4 137.3,23.9 138.2,23.7 139.2,23.5 140.1,23.3 141.0,23.1 141.9,22.9 142.9,22.8 143.8,22.8 144.7,22.7 145.6,22.6 146.6,22.4 147.5,22.3 148.4,22.1 149.3,22.0 150.2,21.6 151.2,21.4 152.1,21.3 153.0,21.1 153.9,21.0 154.9,20.7 155.8,20.5 156.7,20.4 157.7,20.2 158.6,20.1 159.5,20.0 160.4,19.8 161.4,19.8 162.3,19.8 163.2,19.7 164.1,19.5 165.1,19.5 166.0,19.3 166.9,19.2 167.8,19.2 168.8,19.1 169.7,18.9 170.6,18.8 171.5,17.9 172.5,17.8 173.4,17.7 174.3,17.5 175.2,17.4 176.2,17.2 177.1,17.1 178.0,17.1 178.9,17.1 179.9,17.1 180.8,17.1 181.7,17.1 182.6,17.1 183.6,16.5 184.5,16.4 185.4,16.2 186.3,16.2 187.3,16.1 188.2,16.0 189.1,15.9 190.0,15.8 191.0,15.6 191.9,15.5 192.8,15.3 193.7,15.2 194.7,15.0 195.6,14.9 196.5,14.8 197.4,14.7 198.3,14.2 199.3,14.1 200.2,14.0 201.1,14.0 202.1,14.0 203.0,14.0 203.9,14.0 204.8,14.0 205.8,14.0 206.7,14.0 207.6,13.9 208.5,13.7 209.5,13.6 210.4,13.1 211.3,13.0 212.2,13.0 213.2,12.9 214.1,12.8 215.0,12.7"/>
</g>
<text x="30.0" y="194.3" font-size="7" text-anchor="middle">0.0</text><text x="22.3" y="183.5" font-size="7" text-anchor="end">0.0</text><text x="67.0" y="194.3" font-size="7" text-anchor="middle">0.2</text><text x="22.3" y="149.9" font-size="7" text-anchor="end">0.2</text><text x="104.0" y="194.3" font-size="7" text-anchor="middle">0.4</text><text x="22.3" y="116.3" font-size="7" text-anchor="end">0.4</text><text x="141.0" y="194.3" font-size="7" text-anchor="middle">0.6</text><text x="22.3" y="82.8" font-size="7" text-anchor="end">0.6</text><text x="178.0" y="194.3" font-size="7" text-anchor="middle">0.8</text><text x="22.3" y="49.2" font-size="7" text-anchor="end">0.8</text><text x="215.0" y="194.3" font-size="7" text-anchor="middle">1.0</text><text x="22.3" y="15.6" font-size="7" text-anchor="end">1.0</text>
<text x="121.6" y="8.1" font-size="10.15" text-anchor="middle">Gap Length 10 Minutes</text>
<text x="121.6" y="205" font-size="8.8" text-anchor="middle">1 - Specificity</text>
<text transform="translate(6.9 97.2) rotate(-90)" font-size="8.8" text-anchor="middle">Sensitivity</text>
<rect x="28.3" y="216.3" width="186.2" height="46.9" rx="1.6" fill="#eaeaf2" fill-opacity="0.8" stroke="#cccccc" stroke-width="0.6"/>
<path d="M34.4 222.7H47.0" stroke="#ff5a4d" stroke-width="1.5"/><text x="52.5" y="225.5" font-size="7.6">LSTM Internal AUC: 0.839 (0.790-0.883)</text>
<path d="M34.4 233.9H47.0" stroke="#a4c639" stroke-width="1.5"/><text x="52.5" y="236.8" font-size="7.6">LSTM External AUC: 0.830 (0.810-0.849)</text>
<path d="M34.4 245.2H47.0" stroke="#4285f4" stroke-width="1.5"/><text x="52.5" y="248.0" font-size="7.6">GRD-D Internal AUC: 0.840 (0.789-0.886)</text>
<path d="M34.4 256.4H47.0" stroke="#f032e6" stroke-width="1.5"/><text x="52.5" y="259.2" font-size="7.6">GRU-D External AUC: 0.875 (0.856-0.893)</text>
</g>
<g>
<rect x="252.5" y="11.1" width="186.8" height="171.2" fill="#eaeaf2"/>
<path d="M254.3 11.1V182.3M252.5 180.6H439.3M291.3 11.1V182.3M252.5 147.0H439.3M328.3 11.1V182.3M252.5 113.4H439.3M365.3 11.1V182.3M252.5 79.9H439.3M402.3 11.1V182.3M252.5 46.3H439.3M439.3 11.1V182.3M252.5 12.7H439.3" stroke="#fff" stroke-width="0.7" fill="none" clip-path="url(#c1)"/>
<g clip-path="url(#c1)">
<polygon fill="#ff5a4d" fill-opacity="0.32" points="254.3,180.6 254.7,149.0 255.0,131.6 255.4,128.6 255.8,125.6 256.2,122.6 256.5,119.6 256.9,116.5 257.3,113.5 257.6,109.3 258.0,105.1 258.4,104.1 258.7,103.1 259.1,102.1 259.5,101.1 259.9,100.3 260.2,99.3 260.6,98.3 261.0,97.3 261.3,96.3 261.7,95.4 262.1,94.4 262.4,93.4 262.8,90.5 263.2,89.5 263.6,88.5 264.5,86.1 265.4,83.6 266.3,79.1 267.2,74.0 268.2,69.0 269.1,65.6 270.0,64.7 270.9,63.8 271.9,63.3 272.8,62.4 273.7,61.5 274.7,60.5 275.6,59.6 276.5,58.7 277.4,57.9 278.4,57.9 279.3,57.9 280.2,57.9 281.1,57.1 282.1,56.3 283.0,55.5 283.9,54.7 284.8,53.9 285.8,50.4 286.7,49.6 287.6,48.9 288.5,48.4 289.4,47.8 290.4,47.2 291.3,46.7 292.2,46.1 293.2,45.5 294.1,44.9 295.0,44.9 295.9,44.0 296.9,43.1 297.8,42.3 298.7,41.4 299.6,40.5 300.6,39.6 301.5,38.7 302.4,38.0 303.3,37.4 304.2,36.9 305.2,36.4 306.1,35.8 307.0,35.8 307.9,35.8 308.9,35.6 309.8,35.1 310.7,34.6 311.7,34.1 312.6,33.6 313.5,33.1 314.4,31.8 315.4,31.3 316.3,30.8 317.2,30.3 318.1,30.1 319.1,29.8 320.0,29.8 320.9,29.8 321.8,29.8 322.8,29.7 323.7,29.7 324.6,29.7 325.5,29.7 326.5,29.5 327.4,29.2 328.3,29.0 329.2,28.4 330.1,27.7 331.1,27.1 332.0,26.5 332.9,25.9 333.9,23.9 334.8,23.8 335.7,23.7 336.6,23.7 337.6,23.6 338.5,23.5 339.4,22.8 340.3,22.7 341.2,22.6 342.2,22.5 343.1,22.4 344.0,22.3 344.9,22.2 345.9,22.1 346.8,22.1 347.7,22.1 348.7,22.1 349.6,22.1 350.5,22.1 351.4,22.1 352.4,22.1 353.3,21.8 354.2,21.5 355.1,21.1 356.1,19.2 357.0,18.9 357.9,18.5 358.8,18.2 359.8,18.0 360.7,17.9 361.6,17.7 362.5,17.6 363.5,17.5 364.4,17.4 365.3,17.3 366.2,17.3 367.2,17.3 368.1,17.3 369.0,17.3 369.9,17.3 370.9,17.3 371.8,16.2 372.7,16.2 373.6,16.2 374.6,16.2 375.5,16.2 376.4,16.2 377.3,16.2 378.2,16.2 379.2,16.2 380.1,16.2 381.0,16.2 382.0,16.2 382.9,16.2 383.8,16.2 384.7,16.2 385.7,16.2 386.6,16.2 387.5,16.2 388.4,16.2 389.4,16.2 390.3,15.6 391.2,15.4 392.1,14.8 393.1,14.2 394.0,13.6 394.9,13.2 395.8,12.7 396.8,12.7 397.7,12.7 398.6,12.7 399.5,12.7 400.5,12.7 401.4,12.7 402.3,12.7 403.2,12.7 404.2,12.7 405.1,12.7 406.0,12.7 406.9,12.7 407.9,12.7 408.8,12.7 409.7,12.7 410.6,12.7 411.6,12.7 412.5,12.7 413.4,12.7 414.3,12.7 415.2,12.7 416.2,12.7 417.1,12.7 418.0,12.7 419.0,12.7 419.9,12.7 420.8,12.7 421.7,12.7 422.6,12.7 423.6,12.7 424.5,12.7 425.4,12.7 426.4,12.7 427.3,12.7 428.2,12.7 429.1,12.7 430.1,12.7 431.0,12.7 431.9,12.7 432.8,12.7 433.8,12.7 434.7,12.7 435.6,12.7 436.5,12.7 437.5,12.7 438.4,12.7 439.3,12.7 439.3,12.7 438.4,14.3 437.5,15.9 436.5,16.9 435.6,17.8 434.7,17.8 433.8,17.8 432.8,17.8 431.9,17.8 431.0,18.2 430.1,18.6 429.1,18.9 428.2,20.3 427.3,20.7 426.4,21.0 425.4,21.4 424.5,21.7 423.6,22.1 422.6,22.4 421.7,22.8 420.8,23.1 419.9,23.4 419.0,23.6 418.0,23.7 417.1,23.7 416.2,23.7 415.2,23.7 414.3,23.7 413.4,23.7 412.5,23.7 411.6,23.7 410.6,23.7 409.7,24.0 408.8,24.2 407.9,24.5 406.9,24.7 406.0,25.0 405.1,25.2 404.2,25.5 403.2,25.7 402.3,26.0 401.4,26.2 400.5,26.5 399.5,26.8 398.6,27.1 397.7,27.4 396.8,27.7 395.8,27.9 394.9,28.2 394.0,28.5 393.1,29.1 392.1,29.4 391.2,29.7 390.3,30.0 389.4,30.3 388.4,30.6 387.5,30.9 386.6,31.2 385.7,32.5 384.7,32.5 383.8,32.5 382.9,32.5 382.0,32.5 381.0,32.8 380.1,33.0 379.2,33.3 378.2,33.5 377.3,33.8 376.4,35.6 375.5,35.6 374.6,35.6 373.6,35.6 372.7,35.6 371.8,35.6 370.9,35.6 369.9,35.6 369.0,35.6 368.1,35.9 367.2,36.1 366.2,36.4 365.3,36.6 364.4,37.0 363.5,37.3 362.5,37.6 361.6,38.0 360.7,38.3 359.8,38.6 358.8,39.0 357.9,39.1 357.0,39.1 356.1,39.4 355.1,39.8 354.2,40.1 353.3,40.4 352.4,40.8 351.4,41.1 350.5,41.4 349.6,41.8 348.7,42.1 347.7,42.5 346.8,42.8 345.9,44.0 344.9,44.4 344.0,44.8 343.1,45.1 342.2,45.5 341.2,45.9 340.3,46.3 339.4,46.7 338.5,47.1 337.6,47.5 336.6,47.8 335.7,48.0 334.8,48.0 333.9,48.3 332.9,48.7 332.0,49.1 331.1,49.5 330.1,52.0 329.2,52.4 328.3,52.8 327.4,53.4 326.5,53.9 325.5,54.5 324.6,55.1 323.7,55.7 322.8,56.3 321.8,56.9 320.9,57.5 320.0,58.1 319.1,58.7 318.1,59.4 317.2,59.6 316.3,59.6 315.4,59.6 314.4,60.2 313.5,60.8 312.6,61.4 311.7,63.4 310.7,64.0 309.8,64.6 308.9,65.3 307.9,65.9 307.0,66.8 306.1,67.7 305.2,68.7 304.2,69.7 303.3,70.7 302.4,71.8 301.5,73.9 300.6,74.9 299.6,75.9 298.7,76.9 297.8,77.5 296.9,77.5 295.9,78.6 295.0,79.6 294.1,80.6 293.2,81.8 292.2,82.9 291.3,84.0 290.4,85.1 289.4,86.3 288.5,87.4 287.6,88.5 286.7,89.6 285.8,90.8 284.8,92.3 283.9,93.5 283.0,94.6 282.1,95.7 281.1,97.6 280.2,98.7 279.3,99.8 278.4,101.0 277.4,102.1 276.5,103.0 275.6,104.4 274.7,105.9 273.7,107.4 272.8,108.8 271.9,110.3 270.9,111.8 270.0,113.2 269.1,114.7 268.2,117.1 267.2,119.5 266.3,121.9 265.4,123.8 264.5,123.8 263.6,126.2 263.2,127.1 262.8,128.1 262.4,129.2 262.1,130.6 261.7,134.9 261.3,136.2 261.0,137.5 260.6,138.5 260.2,138.5 259.9,139.9 259.5,141.6 259.1,142.9 258.7,144.3 258.4,145.6 258.0,146.9 257.6,150.3 257.3,153.7 256.9,157.0 256.5,160.4 256.2,163.7 255.8,167.1 255.4,170.3 255.0,173.7 254.7,177.0 254.3,180.6"/>
<polyline fill="none" stroke="#ff5a4d" stroke-width="1.25" stroke-opacity="0.95" stroke-linejoin="round" filter="url(#bl)" points="254.3,180.6 254.7,171.9 255.0,163.3 255.4,154.7 255.8,146.1 256.2,137.4 256.5,132.0 256.9,129.8 257.3,127.6 257.6,125.5 258.0,123.3 258.4,121.1 258.7,118.9 259.1,116.8 259.5,114.6 259.9,113.1 260.2,111.9 260.6,110.7 261.0,109.6 261.3,108.4 261.7,107.2 262.1,106.0 262.4,105.0 262.8,104.2 263.2,103.3 263.6,102.5 264.5,100.2 265.4,98.1 266.3,95.9 267.2,93.8 268.2,91.6 269.1,89.5 270.0,87.0 270.9,84.8 271.9,83.6 272.8,82.0 273.7,80.7 274.7,79.5 275.6,78.3 276.5,77.0 277.4,76.7 278.4,75.4 279.3,74.2 280.2,73.5 281.1,72.7 282.1,72.0 283.0,71.2 283.9,70.4 284.8,69.6 285.8,68.9 286.7,68.1 287.6,67.4 288.5,66.7 289.4,65.6 290.4,64.9 291.3,64.2 292.2,63.4 293.2,62.8 294.1,62.4 295.0,61.7 295.9,61.3 296.9,60.8 297.8,60.4 298.7,60.4 299.6,60.0 300.6,58.9 301.5,57.7 302.4,56.6 303.3,55.4 304.2,53.7 305.2,52.5 306.1,52.0 307.0,51.6 307.9,51.6 308.9,51.3 309.8,50.8 310.7,50.3 311.7,49.9 312.6,49.4 313.5,48.3 314.4,47.9 315.4,47.5 316.3,47.0 317.2,46.6 318.1,46.1 319.1,45.9 320.0,45.4 320.9,45.0 321.8,44.5 322.8,43.4 323.7,42.8 324.6,42.3 325.5,41.7 326.5,41.2 327.4,40.6 328.3,40.1 329.2,40.1 330.1,39.7 331.1,39.2 332.0,38.8 332.9,38.4 333.9,37.9 334.8,37.5 335.7,37.1 336.6,36.6 337.6,36.2 338.5,35.7 339.4,35.3 340.3,35.0 341.2,35.0 342.2,35.0 343.1,34.9 344.0,34.7 344.9,34.5 345.9,34.3 346.8,34.0 347.7,33.8 348.7,33.5 349.6,33.2 350.5,32.8 351.4,32.3 352.4,31.9 353.3,31.3 354.2,30.9 355.1,30.5 356.1,30.3 357.0,29.8 357.9,29.4 358.8,29.0 359.8,28.6 360.7,28.1 361.6,27.7 362.5,27.1 363.5,27.0 364.4,26.9 365.3,26.7 366.2,26.6 367.2,26.5 368.1,26.4 369.0,26.3 369.9,26.2 370.9,26.1 371.8,26.0 372.7,25.9 373.6,25.8 374.6,25.6 375.5,25.5 376.4,25.4 377.3,25.3 378.2,25.2 379.2,24.7 380.1,24.5 381.0,24.4 382.0,24.4 382.9,24.4 383.8,24.4 384.7,24.2 385.7,24.0 386.6,23.7 387.5,23.5 388.4,23.1 389.4,22.9 390.3,22.7 391.2,22.4 392.1,22.2 393.1,21.7 394.0,21.5 394.9,21.3 395.8,21.1 396.8,21.0 397.7,21.0 398.6,21.0 399.5,20.9 400.5,20.7 401.4,20.5 402.3,20.4 403.2,20.3 404.2,19.9 405.1,19.8 406.0,19.7 406.9,19.6 407.9,19.5 408.8,19.4 409.7,19.3 410.6,19.2 411.6,19.0 412.5,18.9 413.4,18.4 414.3,18.3 415.2,18.2 416.2,18.1 417.1,18.0 418.0,17.9 419.0,17.8 419.9,17.6 420.8,17.4 421.7,17.1 422.6,16.9 423.6,16.4 424.5,16.2 425.4,15.9 426.4,15.7 427.3,15.7 428.2,15.6 429.1,15.4 430.1,15.1 431.0,15.1 431.9,14.9 432.8,14.6 433.8,14.4 434.7,14.1 435.6,13.9 436.5,13.6 437.5,13.3 438.4,13.0 439.3,12.7"/>
<polygon fill="#a4c639" fill-opacity="0.32" points="254.3,180.6 254.7,145.0 255.0,143.2 255.4,141.3 255.8,139.4 256.2,137.6 256.5,135.8 256.9,133.9 257.3,132.1 257.6,130.4 258.0,129.5 258.4,128.5 258.7,127.7 259.1,126.7 259.5,125.8 259.9,124.5 260.2,123.6 260.6,122.6 261.0,122.1 261.3,121.0 261.7,120.0 262.1,119.1 262.4,118.2 262.8,117.1 263.2,116.1 263.6,115.2 264.5,112.9 265.4,110.8 266.3,108.7 267.2,106.7 268.2,104.9 269.1,102.8 270.0,101.0 270.9,99.6 271.9,98.8 272.8,97.5 273.7,95.3 274.7,94.1 275.6,92.9 276.5,91.7 277.4,90.4 278.4,90.1 279.3,88.9 280.2,87.6 281.1,86.4 282.1,85.2 283.0,84.0 283.9,81.6 284.8,79.5 285.8,78.7 286.7,75.4 287.6,74.6 288.5,73.8 289.4,73.0 290.4,71.9 291.3,71.1 292.2,70.3 293.2,69.5 294.1,68.7 295.0,67.8 295.9,66.6 296.9,65.6 297.8,65.5 298.7,64.5 299.6,63.5 300.6,62.5 301.5,61.5 302.4,60.6 303.3,59.9 304.2,59.2 305.2,58.7 306.1,58.0 307.0,57.3 307.9,56.5 308.9,55.5 309.8,54.8 310.7,53.7 311.7,53.1 312.6,52.4 313.5,51.8 314.4,51.2 315.4,50.6 316.3,50.0 317.2,49.1 318.1,48.5 319.1,48.0 320.0,47.4 320.9,46.8 321.8,46.2 322.8,45.6 323.7,45.6 324.6,45.4 325.5,44.8 326.5,44.4 327.4,43.8 328.3,43.3 329.2,42.7 330.1,42.0 331.1,40.7 332.0,40.2 332.9,39.7 333.9,39.2 334.8,38.7 335.7,38.2 336.6,37.5 337.6,36.8 338.5,36.3 339.4,35.8 340.3,35.4 341.2,35.4 342.2,35.4 343.1,35.3 344.0,34.2 344.9,33.8 345.9,33.0 346.8,32.6 347.7,32.4 348.7,32.0 349.6,31.6 350.5,31.3 351.4,30.9 352.4,30.7 353.3,30.3 354.2,29.8 355.1,29.8 356.1,29.6 357.0,29.2 357.9,28.9 358.8,28.0 359.8,27.6 360.7,27.3 361.6,26.9 362.5,26.6 363.5,26.4 364.4,26.4 365.3,26.4 366.2,26.4 367.2,26.4 368.1,26.2 369.0,26.2 369.9,26.0 370.9,25.2 371.8,25.0 372.7,24.8 373.6,24.6 374.6,24.4 375.5,24.2 376.4,24.2 377.3,24.2 378.2,24.2 379.2,24.2 380.1,24.1 381.0,22.9 382.0,22.6 382.9,22.5 383.8,22.5 384.7,22.5 385.7,22.3 386.6,22.2 387.5,22.0 388.4,21.8 389.4,21.6 390.3,21.0 391.2,21.0 392.1,20.9 393.1,20.7 394.0,20.6 394.9,20.0 395.8,19.8 396.8,19.8 397.7,19.8 398.6,19.8 399.5,19.8 400.5,19.4 401.4,19.2 402.3,17.8 403.2,17.7 404.2,17.5 405.1,17.5 406.0,17.5 406.9,17.5 407.9,17.5 408.8,17.5 409.7,17.5 410.6,17.4 411.6,17.4 412.5,17.3 413.4,17.2 414.3,17.0 415.2,16.9 416.2,16.4 417.1,16.4 418.0,16.4 419.0,16.4 419.9,16.4 420.8,16.3 421.7,16.2 422.6,15.5 423.6,15.3 424.5,15.1 425.4,14.9 426.4,14.7 427.3,14.0 428.2,13.7 429.1,13.5 430.1,13.5 431.0,13.4 431.9,13.3 432.8,13.2 433.8,13.0 434.7,13.0 435.6,12.8 436.5,12.7 437.5,12.7 438.4,12.7 439.3,12.7 439.3,13.3 438.4,13.5 437.5,13.7 436.5,14.0 435.6,14.5 434.7,14.8 433.8,14.8 432.8,14.8 431.9,15.0 431.0,15.2 430.1,15.4 429.1,15.7 428.2,16.0 427.3,16.5 426.4,16.8 425.4,18.0 424.5,18.3 423.6,18.4 422.6,18.4 421.7,19.3 420.8,19.6 419.9,19.8 419.0,19.8 418.0,19.8 417.1,19.8 416.2,19.8 415.2,20.2 414.3,20.2 413.4,20.2 412.5,20.2 411.6,20.2 410.6,20.4 409.7,21.0 408.8,21.2 407.9,21.3 406.9,21.3 406.0,22.3 405.1,22.3 404.2,22.5 403.2,22.6 402.3,22.8 401.4,23.1 400.5,23.3 399.5,24.1 398.6,24.3 397.7,24.6 396.8,24.6 395.8,24.6 394.9,24.9 394.0,25.2 393.1,25.2 392.1,25.2 391.2,25.2 390.3,25.2 389.4,25.2 388.4,25.4 387.5,25.6 386.6,26.8 385.7,27.0 384.7,27.2 383.8,27.4 382.9,28.1 382.0,28.3 381.0,28.7 380.1,29.0 379.2,29.1 378.2,29.1 377.3,29.1 376.4,29.4 375.5,29.6 374.6,29.7 373.6,29.7 372.7,29.7 371.8,29.9 370.9,30.2 369.9,31.1 369.0,32.0 368.1,32.3 367.2,32.6 366.2,32.6 365.3,32.6 364.4,32.6 363.5,32.6 362.5,32.8 361.6,32.8 360.7,33.2 359.8,33.6 358.8,34.1 357.9,34.5 357.0,34.9 356.1,35.3 355.1,35.6 354.2,36.0 353.3,36.6 352.4,37.0 351.4,38.0 350.5,38.4 349.6,38.8 348.7,39.2 347.7,39.6 346.8,39.9 345.9,39.9 344.9,40.3 344.0,40.7 343.1,41.9 342.2,42.3 341.2,42.3 340.3,42.3 339.4,42.8 338.5,43.7 337.6,44.2 336.6,44.8 335.7,45.5 334.8,46.1 333.9,46.7 332.9,47.2 332.0,47.8 331.1,48.0 330.1,48.6 329.2,49.4 328.3,50.0 327.4,50.2 326.5,50.8 325.5,51.3 324.6,52.4 323.7,53.0 322.8,53.6 321.8,54.2 320.9,55.0 320.0,55.6 319.1,56.7 318.1,57.3 317.2,58.0 316.3,58.4 315.4,58.4 314.4,58.9 313.5,59.6 312.6,60.5 311.7,61.2 310.7,61.8 309.8,62.5 308.9,63.0 307.9,64.1 307.0,64.8 306.1,65.6 305.2,66.1 304.2,66.6 303.3,67.3 302.4,68.1 301.5,69.0 300.6,70.1 299.6,71.1 298.7,72.3 297.8,73.3 296.9,74.4 295.9,75.4 295.0,76.6 294.1,77.9 293.2,78.7 292.2,79.6 291.3,80.6 290.4,81.4 289.4,81.5 288.5,82.3 287.6,83.9 286.7,85.7 285.8,87.5 284.8,89.7 283.9,91.4 283.0,93.5 282.1,94.7 281.1,96.0 280.2,97.2 279.3,98.3 278.4,99.5 277.4,99.9 276.5,101.2 275.6,102.4 274.7,103.6 273.7,104.8 272.8,107.0 271.9,107.3 270.9,108.5 270.0,110.1 269.1,113.1 268.2,115.3 267.2,117.7 266.3,120.0 265.4,122.5 264.5,124.3 263.6,126.6 263.2,127.5 262.8,128.4 262.4,130.0 262.1,130.9 261.7,132.6 261.3,134.5 261.0,136.3 260.6,137.9 260.2,139.8 259.9,141.7 259.5,143.3 259.1,145.1 258.7,147.0 258.4,152.6 258.0,158.2 257.6,163.8 257.3,169.4 256.9,175.0 256.5,180.6 256.2,180.6 255.8,180.6 255.4,180.6 255.0,180.6 254.7,180.6 254.3,180.6"/>
<polyline fill="none" stroke="#a4c639" stroke-width="1.25" stroke-opacity="0.95" stroke-linejoin="round" filter="url(#bl)" points="254.3,180.6 254.7,175.0 255.0,169.4 255.4,163.8 255.8,158.2 256.2,152.6 256.5,147.0 256.9,145.1 257.3,143.3 257.6,141.4 258.0,139.5 258.4,137.7 258.7,135.9 259.1,134.0 259.5,132.1 259.9,130.5 260.2,129.5 260.6,128.6 261.0,127.7 261.3,126.8 261.7,125.9 262.1,124.9 262.4,124.0 262.8,123.1 263.2,122.1 263.6,121.1 264.5,118.7 265.4,116.4 266.3,114.1 267.2,111.9 268.2,109.8 269.1,107.7 270.0,105.9 270.9,104.5 271.9,103.3 272.8,102.1 273.7,99.9 274.7,98.7 275.6,97.5 276.5,96.2 277.4,95.0 278.4,94.7 279.3,93.4 280.2,92.2 281.1,91.0 282.1,89.7 283.0,88.5 283.9,86.4 284.8,85.2 285.8,83.0 286.7,79.4 287.6,78.6 288.5,77.8 289.4,77.0 290.4,76.9 291.3,76.1 292.2,75.3 293.2,74.5 294.1,73.7 295.0,72.8 295.9,71.6 296.9,70.5 297.8,69.5 298.7,68.5 299.6,67.5 300.6,66.5 301.5,65.4 302.4,64.5 303.3,63.8 304.2,63.0 305.2,62.5 306.1,61.8 307.0,61.1 307.9,60.3 308.9,59.3 309.8,58.5 310.7,57.9 311.7,57.2 312.6,56.6 313.5,55.9 314.4,55.3 315.4,54.7 316.3,54.0 317.2,53.4 318.1,52.8 319.1,52.2 320.0,51.6 320.9,51.0 321.8,50.4 322.8,49.8 323.7,49.2 324.6,48.6 325.5,48.0 326.5,47.6 327.4,47.0 328.3,46.4 329.2,45.8 330.1,45.1 331.1,44.5 332.0,44.0 332.9,43.5 333.9,42.9 334.8,42.4 335.7,41.9 336.6,41.2 337.6,40.6 338.5,40.1 339.4,39.6 340.3,39.1 341.2,39.1 342.2,39.1 343.1,38.8 344.0,37.6 344.9,37.2 345.9,36.9 346.8,36.5 347.7,36.2 348.7,35.8 349.6,35.4 350.5,35.0 351.4,34.7 352.4,34.3 353.3,33.9 354.2,33.3 355.1,32.9 356.1,32.5 357.0,32.1 357.9,31.8 358.8,31.4 359.8,31.0 360.7,30.6 361.6,30.2 362.5,29.9 363.5,29.6 364.4,29.6 365.3,29.6 366.2,29.6 367.2,29.6 368.1,29.3 369.0,29.1 369.9,28.8 370.9,28.0 371.8,27.8 372.7,27.5 373.6,27.3 374.6,27.1 375.5,26.9 376.4,26.6 377.3,26.4 378.2,26.2 379.2,26.2 380.1,26.0 381.0,25.8 382.0,25.6 382.9,25.4 383.8,24.7 384.7,24.5 385.7,24.3 386.6,24.1 387.5,23.9 388.4,23.7 389.4,23.5 390.3,23.5 391.2,23.5 392.1,23.5 393.1,23.3 394.0,23.1 394.9,22.5 395.8,22.3 396.8,22.1 397.7,21.8 398.6,21.6 399.5,21.4 400.5,20.8 401.4,20.5 402.3,20.3 403.2,20.2 404.2,20.0 405.1,19.9 406.0,19.9 406.9,19.9 407.9,19.9 408.8,19.7 409.7,19.6 410.6,19.1 411.6,18.9 412.5,18.8 413.4,18.6 414.3,18.5 415.2,18.3 416.2,18.2 417.1,18.2 418.0,18.2 419.0,18.2 419.9,18.2 420.8,18.0 421.7,17.8 422.6,17.0 423.6,16.8 424.5,16.5 425.4,16.3 426.4,16.0 427.3,15.8 428.2,15.4 429.1,15.2 430.1,14.9 431.0,14.7 431.9,14.5 432.8,14.3 433.8,14.0 434.7,14.0 435.6,13.7 436.5,13.5 437.5,13.2 438.4,13.0 439.3,12.7"/>
<polygon fill="#4285f4" fill-opacity="0.32" points="254.3,180.6 254.7,161.7 255.0,142.7 255.4,132.0 255.8,129.7 256.2,127.4 256.5,125.1 256.9,122.8 257.3,120.5 257.6,118.2 258.0,115.9 258.4,113.6 258.7,112.2 259.1,110.8 259.5,108.9 259.9,106.2 260.2,104.8 260.6,103.4 261.0,102.6 261.3,101.7 261.7,101.7 262.1,101.7 262.4,101.7 262.8,100.8 263.2,100.0 263.6,99.1 264.5,96.9 265.4,94.7 266.3,92.5 267.2,90.3 268.2,86.3 269.1,84.2 270.0,82.2 270.9,80.2 271.9,78.3 272.8,76.3 273.7,74.4 274.7,72.4 275.6,71.2 276.5,70.0 277.4,68.9 278.4,67.7 279.3,66.5 280.2,64.4 281.1,63.3 282.1,62.1 283.0,60.9 283.9,59.7 284.8,58.8 285.8,57.9 286.7,57.9 287.6,57.9 288.5,57.9 289.4,57.3 290.4,56.4 291.3,55.5 292.2,54.6 293.2,51.4 294.1,50.5 295.0,49.6 295.9,48.6 296.9,46.8 297.8,45.9 298.7,44.9 299.6,44.0 300.6,43.1 301.5,43.1 302.4,43.1 303.3,43.1 304.2,42.5 305.2,41.8 306.1,41.1 307.0,40.3 307.9,39.6 308.9,38.9 309.8,38.1 310.7,35.7 311.7,35.2 312.6,34.6 313.5,34.0 314.4,33.5 315.4,32.9 316.3,32.3 317.2,31.8 318.1,31.4 319.1,31.1 320.0,30.9 320.9,30.5 321.8,30.2 322.8,29.9 323.7,29.5 324.6,29.2 325.5,28.8 326.5,28.5 327.4,28.2 328.3,27.8 329.2,27.3 330.1,26.8 331.1,26.2 332.0,25.6 332.9,25.1 333.9,24.6 334.8,24.4 335.7,24.3 336.6,24.2 337.6,24.0 338.5,23.9 339.4,23.8 340.3,23.6 341.2,23.5 342.2,23.3 343.1,23.1 344.0,23.0 344.9,22.9 345.9,22.7 346.8,22.6 347.7,22.6 348.7,22.6 349.6,22.6 350.5,22.6 351.4,22.6 352.4,22.6 353.3,22.6 354.2,22.6 355.1,22.6 356.1,22.6 357.0,22.6 357.9,22.6 358.8,19.8 359.8,19.7 360.7,19.5 361.6,19.4 362.5,19.2 363.5,19.0 364.4,18.9 365.3,18.7 366.2,18.6 367.2,18.5 368.1,18.5 369.0,18.4 369.9,18.3 370.9,18.3 371.8,18.3 372.7,18.3 373.6,18.3 374.6,18.3 375.5,18.3 376.4,18.3 377.3,18.3 378.2,18.3 379.2,18.3 380.1,18.3 381.0,18.3 382.0,18.3 382.9,18.3 383.8,18.3 384.7,18.3 385.7,18.3 386.6,18.3 387.5,18.3 388.4,18.3 389.4,18.3 390.3,18.3 391.2,18.3 392.1,15.2 393.1,15.1 394.0,14.9 394.9,14.7 395.8,14.6 396.8,14.4 397.7,14.2 398.6,14.1 399.5,13.9 400.5,13.9 401.4,13.9 402.3,13.9 403.2,13.9 404.2,13.9 405.1,13.9 406.0,13.5 406.9,13.4 407.9,13.3 408.8,13.2 409.7,13.1 410.6,13.0 411.6,13.0 412.5,12.9 413.4,12.8 414.3,12.7 415.2,12.7 416.2,12.7 417.1,12.7 418.0,12.7 419.0,12.7 419.9,12.7 420.8,12.7 421.7,12.7 422.6,12.7 423.6,12.7 424.5,12.7 425.4,12.7 426.4,12.7 427.3,12.7 428.2,12.7 429.1,12.7 430.1,12.7 431.0,12.7 431.9,12.7 432.8,12.7 433.8,12.7 434.7,12.7 435.6,12.7 436.5,12.7 437.5,12.7 438.4,12.7 439.3,12.7 439.3,12.7 438.4,13.4 437.5,14.1 436.5,14.4 435.6,14.9 434.7,15.6 433.8,16.8 432.8,17.9 431.9,19.1 431.0,19.9 430.1,20.8 429.1,21.7 428.2,22.3 427.3,22.8 426.4,23.2 425.4,23.6 424.5,23.6 423.6,24.0 422.6,24.5 421.7,24.8 420.8,25.2 419.9,25.5 419.0,25.9 418.0,26.2 417.1,26.5 416.2,26.8 415.2,26.9 414.3,27.1 413.4,27.3 412.5,28.6 411.6,28.6 410.6,28.6 409.7,28.6 408.8,28.6 407.9,28.6 406.9,28.8 406.0,29.0 405.1,29.1 404.2,29.3 403.2,29.7 402.3,30.1 401.4,30.4 400.5,30.8 399.5,31.2 398.6,31.6 397.7,32.0 396.8,32.3 395.8,34.9 394.9,36.4 394.0,37.9 393.1,38.0 392.1,38.1 391.2,38.1 390.3,38.1 389.4,38.1 388.4,38.1 387.5,38.1 386.6,38.1 385.7,38.1 384.7,38.1 383.8,38.1 382.9,38.1 382.0,38.1 381.0,38.1 380.1,38.4 379.2,38.7 378.2,39.0 377.3,39.2 376.4,39.5 375.5,40.2 374.6,40.5 373.6,40.6 372.7,40.8 371.8,40.9 370.9,41.0 369.9,41.2 369.0,41.2 368.1,41.4 367.2,41.5 366.2,41.6 365.3,41.8 364.4,41.9 363.5,42.1 362.5,42.2 361.6,42.4 360.7,42.5 359.8,42.6 358.8,42.9 357.9,45.1 357.0,45.7 356.1,45.9 355.1,45.9 354.2,45.9 353.3,45.9 352.4,45.9 351.4,45.9 350.5,46.0 349.6,46.0 348.7,46.0 347.7,46.0 346.8,46.6 345.9,46.6 344.9,46.6 344.0,46.6 343.1,47.5 342.2,48.4 341.2,49.3 340.3,50.2 339.4,51.1 338.5,51.9 337.6,52.8 336.6,53.5 335.7,54.1 334.8,54.6 333.9,54.8 332.9,54.8 332.0,54.8 331.1,55.3 330.1,55.8 329.2,56.3 328.3,56.7 327.4,57.4 326.5,57.8 325.5,57.8 324.6,57.8 323.7,57.8 322.8,58.4 321.8,59.0 320.9,59.7 320.0,60.3 319.1,62.4 318.1,63.0 317.2,63.6 316.3,64.3 315.4,64.9 314.4,65.6 313.5,66.2 312.6,67.5 311.7,68.2 310.7,68.8 309.8,69.5 308.9,70.2 307.9,70.9 307.0,71.6 306.1,72.3 305.2,73.1 304.2,74.9 303.3,75.7 302.4,76.5 301.5,77.3 300.6,78.1 299.6,78.9 298.7,79.1 297.8,79.1 296.9,79.1 295.9,79.1 295.0,80.2 294.1,81.3 293.2,82.4 292.2,85.2 291.3,86.2 290.4,87.3 289.4,88.4 288.5,89.4 287.6,90.5 286.7,91.6 285.8,92.6 284.8,93.7 283.9,94.8 283.0,95.8 282.1,96.6 281.1,96.6 280.2,97.6 279.3,98.7 278.4,99.8 277.4,100.8 276.5,101.9 275.6,103.0 274.7,104.6 273.7,110.1 272.8,112.6 271.9,115.1 270.9,117.3 270.0,119.5 269.1,121.7 268.2,123.9 267.2,126.1 266.3,128.3 265.4,130.5 264.5,133.7 263.6,137.4 263.2,138.2 262.8,138.2 262.4,139.6 262.1,141.0 261.7,142.4 261.3,143.8 261.0,145.2 260.6,146.6 260.2,148.2 259.9,149.7 259.5,151.6 259.1,153.2 258.7,154.6 258.4,156.1 258.0,157.7 257.6,159.9 257.3,162.2 256.9,164.6 256.5,166.8 256.2,169.1 255.8,171.4 255.4,173.6 255.0,175.9 254.7,178.2 254.3,180.6"/>
<polyline fill="none" stroke="#4285f4" stroke-width="1.25" stroke-opacity="0.95" stroke-linejoin="round" filter="url(#bl)" points="254.3,180.6 254.7,175.8 255.0,171.0 255.4,166.2 255.8,161.5 256.2,156.7 256.5,151.9 256.9,147.1 257.3,145.3 257.6,143.7 258.0,142.0 258.4,140.3 258.7,138.6 259.1,136.9 259.5,135.2 259.9,133.3 260.2,132.2 260.6,130.5 261.0,128.6 261.3,126.7 261.7,124.7 262.1,122.8 262.4,120.9 262.8,119.0 263.2,117.2 263.6,115.3 264.5,111.9 265.4,108.4 266.3,105.1 267.2,103.1 268.2,101.1 269.1,99.2 270.0,97.7 270.9,95.7 271.9,93.8 272.8,91.7 273.7,90.4 274.7,89.1 275.6,87.8 276.5,87.2 277.4,85.9 278.4,84.6 279.3,83.3 280.2,81.4 281.1,79.8 282.1,78.5 283.0,77.2 283.9,75.9 284.8,74.6 285.8,73.4 286.7,72.1 287.6,71.0 288.5,69.8 289.4,68.8 290.4,67.7 291.3,66.7 292.2,65.7 293.2,64.7 294.1,64.1 295.0,63.4 295.9,62.6 296.9,61.9 297.8,61.2 298.7,60.4 299.6,59.7 300.6,58.3 301.5,57.6 302.4,56.8 303.3,56.1 304.2,55.3 305.2,54.6 306.1,53.9 307.0,53.7 307.9,52.9 308.9,52.2 309.8,51.4 310.7,50.9 311.7,50.4 312.6,49.7 313.5,49.2 314.4,48.6 315.4,48.1 316.3,47.9 317.2,47.4 318.1,46.9 319.1,46.0 320.0,45.5 320.9,44.9 321.8,44.6 322.8,44.2 323.7,43.6 324.6,43.3 325.5,42.9 326.5,42.5 327.4,42.2 328.3,41.8 329.2,41.6 330.1,41.6 331.1,41.4 332.0,41.1 332.9,40.8 333.9,40.6 334.8,40.3 335.7,39.7 336.6,39.4 337.6,39.2 338.5,38.9 339.4,38.6 340.3,38.4 341.2,38.4 342.2,38.4 343.1,38.2 344.0,37.9 344.9,37.6 345.9,37.1 346.8,36.8 347.7,36.5 348.7,36.3 349.6,36.0 350.5,35.7 351.4,35.4 352.4,35.1 353.3,34.8 354.2,34.5 355.1,34.2 356.1,33.9 357.0,33.6 357.9,33.3 358.8,33.0 359.8,32.7 360.7,32.4 361.6,31.8 362.5,31.5 363.5,31.2 364.4,30.9 365.3,30.6 366.2,30.5 367.2,30.4 368.1,30.3 369.0,30.3 369.9,30.2 370.9,30.1 371.8,30.1 372.7,30.0 373.6,30.0 374.6,29.9 375.5,29.8 376.4,29.7 377.3,29.5 378.2,29.4 379.2,29.3 380.1,29.1 381.0,29.0 382.0,28.9 382.9,28.7 383.8,28.7 384.7,28.7 385.7,28.5 386.6,27.9 387.5,27.8 388.4,27.7 389.4,27.5 390.3,27.0 391.2,26.7 392.1,26.2 393.1,25.8 394.0,25.3 394.9,24.8 395.8,24.3 396.8,23.8 397.7,23.3 398.6,23.2 399.5,23.0 400.5,22.9 401.4,22.8 402.3,22.6 403.2,22.6 404.2,22.6 405.1,22.6 406.0,22.6 406.9,22.1 407.9,22.0 408.8,21.8 409.7,21.7 410.6,21.5 411.6,21.4 412.5,21.4 413.4,21.4 414.3,21.1 415.2,21.1 416.2,20.9 417.1,20.6 418.0,20.4 419.0,20.1 419.9,19.9 420.8,19.6 421.7,19.0 422.6,18.7 423.6,18.4 424.5,18.0 425.4,17.7 426.4,17.4 427.3,17.1 428.2,16.8 429.1,16.4 430.1,16.1 431.0,15.9 431.9,15.5 432.8,15.2 433.8,14.4 434.7,14.1 435.6,13.8 436.5,13.6 437.5,13.3 438.4,13.0 439.3,12.7"/>
<polygon fill="#f032e6" fill-opacity="0.32" points="254.3,180.6 254.7,129.9 255.0,127.6 255.4,125.4 255.8,123.3 256.2,121.1 256.5,118.9 256.9,116.7 257.3,114.5 257.6,112.5 258.0,111.3 258.4,110.1 258.7,108.9 259.1,107.7 259.5,106.5 259.9,105.0 260.2,103.9 260.6,103.0 261.0,102.0 261.3,101.0 261.7,100.1 262.1,99.2 262.4,98.2 262.8,97.3 263.2,96.4 263.6,95.7 264.5,93.3 265.4,91.0 266.3,88.8 267.2,86.9 268.2,84.5 269.1,82.3 270.0,80.0 270.9,77.0 271.9,75.9 272.8,74.8 273.7,74.4 274.7,74.1 275.6,73.0 276.5,71.9 277.4,70.2 278.4,69.1 279.3,67.8 280.2,67.0 281.1,66.2 282.1,65.4 283.0,65.0 283.9,64.2 284.8,63.4 285.8,61.6 286.7,60.8 287.6,60.2 288.5,59.6 289.4,59.0 290.4,58.4 291.3,57.8 292.2,57.8 293.2,57.2 294.1,57.1 295.0,56.5 295.9,55.9 296.9,55.2 297.8,54.1 298.7,53.5 299.6,52.7 300.6,51.9 301.5,51.0 302.4,50.1 303.3,49.2 304.2,48.4 305.2,46.9 306.1,46.5 307.0,46.0 307.9,46.0 308.9,45.6 309.8,45.1 310.7,44.6 311.7,44.1 312.6,43.6 313.5,43.3 314.4,42.8 315.4,42.5 316.3,42.1 317.2,41.8 318.1,41.4 319.1,41.3 320.0,41.0 320.9,40.6 321.8,40.1 322.8,39.6 323.7,39.2 324.6,38.2 325.5,37.9 326.5,37.4 327.4,36.9 328.3,36.4 329.2,36.1 330.1,35.7 331.1,35.1 332.0,34.7 332.9,34.3 333.9,33.9 334.8,33.5 335.7,33.3 336.6,32.9 337.6,32.5 338.5,32.0 339.4,31.6 340.3,31.3 341.2,31.3 342.2,31.3 343.1,31.2 344.0,31.0 344.9,30.7 345.9,30.2 346.8,30.0 347.7,29.2 348.7,29.0 349.6,28.7 350.5,27.8 351.4,27.4 352.4,27.4 353.3,27.4 354.2,27.2 355.1,26.9 356.1,26.3 357.0,26.0 357.9,25.6 358.8,25.0 359.8,24.7 360.7,24.4 361.6,24.1 362.5,24.1 363.5,24.1 364.4,24.0 365.3,24.0 366.2,23.8 367.2,23.7 368.1,23.7 369.0,23.6 369.9,23.6 370.9,23.4 371.8,23.3 372.7,22.6 373.6,22.5 374.6,22.3 375.5,22.2 376.4,22.2 377.3,22.1 378.2,21.9 379.2,21.9 380.1,21.9 381.0,21.8 382.0,21.6 382.9,21.3 383.8,21.1 384.7,21.0 385.7,20.8 386.6,20.8 387.5,20.8 388.4,20.7 389.4,20.6 390.3,19.9 391.2,19.8 392.1,19.8 393.1,19.8 394.0,19.6 394.9,19.6 395.8,19.0 396.8,18.8 397.7,18.6 398.6,18.3 399.5,18.1 400.5,18.1 401.4,18.1 402.3,18.1 403.2,18.0 404.2,17.9 405.1,17.9 406.0,17.9 406.9,17.8 407.9,17.7 408.8,17.7 409.7,17.1 410.6,17.0 411.6,16.4 412.5,16.3 413.4,16.2 414.3,16.1 415.2,15.7 416.2,15.5 417.1,15.4 418.0,15.3 419.0,15.2 419.9,15.1 420.8,15.1 421.7,15.1 422.6,15.1 423.6,15.1 424.5,14.8 425.4,14.6 426.4,14.4 427.3,14.3 428.2,14.1 429.1,14.1 430.1,14.1 431.0,13.9 431.9,13.7 432.8,13.6 433.8,13.4 434.7,13.3 435.6,13.0 436.5,12.8 437.5,12.7 438.4,12.7 439.3,12.7 439.3,13.2 438.4,13.4 437.5,13.8 436.5,14.2 435.6,14.5 434.7,15.2 433.8,15.6 432.8,15.6 431.9,15.6 431.0,15.9 430.1,16.1 429.1,16.5 428.2,16.8 427.3,17.1 426.4,17.4 425.4,18.2 424.5,18.5 423.6,18.5 422.6,18.5 421.7,18.5 420.8,18.6 419.9,18.6 419.0,18.8 418.0,18.9 417.1,19.1 416.2,19.2 415.2,19.7 414.3,19.8 413.4,20.0 412.5,20.1 411.6,21.3 410.6,21.5 409.7,21.6 408.8,22.0 407.9,22.1 406.9,22.1 406.0,22.1 405.1,22.1 404.2,22.1 403.2,22.1 402.3,22.1 401.4,22.3 400.5,22.4 399.5,22.4 398.6,22.6 397.7,23.1 396.8,23.3 395.8,23.5 394.9,24.3 394.0,24.6 393.1,24.7 392.1,24.9 391.2,24.9 390.3,25.1 389.4,25.3 388.4,25.4 387.5,25.6 386.6,25.6 385.7,26.2 384.7,26.4 383.8,26.6 382.9,26.8 382.0,27.6 381.0,27.8 380.1,28.0 379.2,28.2 378.2,28.4 377.3,28.6 376.4,28.7 375.5,28.7 374.6,28.9 373.6,29.0 372.7,29.0 371.8,29.2 370.9,29.4 369.9,29.9 369.0,30.1 368.1,30.2 367.2,30.2 366.2,30.4 365.3,30.6 364.4,30.6 363.5,30.8 362.5,31.0 361.6,31.4 360.7,31.7 359.8,32.1 358.8,32.5 357.9,33.2 357.0,33.6 356.1,34.0 355.1,34.6 354.2,34.6 353.3,34.6 352.4,34.6 351.4,34.6 350.5,35.0 349.6,35.4 348.7,35.7 347.7,36.0 346.8,36.9 345.9,37.2 344.9,37.5 344.0,38.3 343.1,38.6 342.2,38.6 341.2,38.6 340.3,38.9 339.4,39.3 338.5,39.8 337.6,40.2 336.6,40.6 335.7,41.1 334.8,41.9 333.9,42.6 332.9,43.1 332.0,43.5 331.1,43.6 330.1,44.1 329.2,44.5 328.3,44.9 327.4,45.4 326.5,45.9 325.5,46.5 324.6,46.8 323.7,47.3 322.8,47.8 321.8,48.3 320.9,48.9 320.0,49.3 319.1,49.4 318.1,50.2 317.2,50.6 316.3,51.0 315.4,51.4 314.4,51.8 313.5,52.1 312.6,52.6 311.7,53.1 310.7,53.6 309.8,54.6 308.9,55.2 307.9,55.6 307.0,55.6 306.1,56.2 305.2,56.7 304.2,57.0 303.3,58.0 302.4,58.9 301.5,60.2 300.6,61.1 299.6,62.0 298.7,62.9 297.8,64.5 296.9,65.2 295.9,65.9 295.0,66.6 294.1,67.2 293.2,67.3 292.2,67.4 291.3,68.1 290.4,68.7 289.4,69.4 288.5,70.0 287.6,70.6 286.7,71.3 285.8,72.1 284.8,73.0 283.9,73.8 283.0,74.6 282.1,75.1 281.1,76.6 280.2,77.4 279.3,78.3 278.4,79.4 277.4,80.5 276.5,82.3 275.6,83.4 274.7,84.3 273.7,84.3 272.8,85.4 271.9,86.6 270.9,88.1 270.0,90.4 269.1,92.8 268.2,95.1 267.2,97.4 266.3,99.8 265.4,102.0 264.5,104.3 263.6,107.3 263.2,108.5 262.8,109.7 262.4,110.9 262.1,112.1 261.7,114.6 261.3,116.8 261.0,119.0 260.6,121.2 260.2,123.3 259.9,125.5 259.5,127.6 259.1,129.9 258.7,131.9 258.4,137.3 258.0,146.0 257.6,154.6 257.3,163.3 256.9,172.1 256.5,180.6 256.2,180.6 255.8,180.6 255.4,180.6 255.0,180.6 254.7,180.6 254.3,180.6"/>
<polyline fill="none" stroke="#f032e6" stroke-width="1.25" stroke-opacity="0.95" stroke-linejoin="round" filter="url(#bl)" points="254.3,180.6 254.7,172.0 255.0,163.4 255.4,154.7 255.8,146.1 256.2,137.4 256.5,132.0 256.9,129.8 257.3,127.5 257.6,125.4 258.0,123.2 258.4,121.0 258.7,118.9 259.1,116.7 259.5,114.5 259.9,112.5 260.2,111.3 260.6,110.1 261.0,108.9 261.3,107.7 261.7,106.5 262.1,105.3 262.4,104.2 262.8,103.3 263.2,102.3 263.6,101.4 264.5,99.1 265.4,96.8 266.3,94.6 267.2,92.3 268.2,90.0 269.1,87.7 270.0,85.4 270.9,82.8 271.9,81.6 272.8,80.5 273.7,79.4 274.7,79.2 275.6,78.0 276.5,76.9 277.4,75.2 278.4,74.1 279.3,73.0 280.2,72.2 281.1,71.3 282.1,70.5 283.0,70.0 283.9,69.2 284.8,68.4 285.8,66.9 286.7,66.1 287.6,65.4 288.5,64.9 289.4,64.3 290.4,63.6 291.3,63.0 292.2,62.4 293.2,61.7 294.1,61.7 295.0,61.1 295.9,60.4 296.9,59.7 297.8,59.0 298.7,58.4 299.6,57.6 300.6,56.7 301.5,55.8 302.4,54.6 303.3,53.7 304.2,52.8 305.2,51.9 306.1,51.4 307.0,50.9 307.9,50.9 308.9,50.5 309.8,49.9 310.7,49.5 311.7,49.0 312.6,48.4 313.5,48.0 314.4,47.5 315.4,47.2 316.3,46.8 317.2,46.4 318.1,46.0 319.1,45.3 320.0,44.9 320.9,44.6 321.8,44.0 322.8,43.5 323.7,43.0 324.6,42.5 325.5,42.2 326.5,41.7 327.4,41.2 328.3,40.7 329.2,40.4 330.1,40.0 331.1,39.5 332.0,39.1 332.9,38.7 333.9,38.3 334.8,37.8 335.7,37.1 336.6,36.7 337.6,36.3 338.5,35.7 339.4,35.3 340.3,34.9 341.2,34.6 342.2,34.6 343.1,34.4 344.0,34.2 344.9,33.9 345.9,33.6 346.8,33.3 347.7,32.5 348.7,32.3 349.6,31.9 350.5,31.6 351.4,31.2 352.4,31.2 353.3,31.2 354.2,30.9 355.1,30.6 356.1,30.2 357.0,29.9 357.9,29.5 358.8,28.9 359.8,28.5 360.7,28.1 361.6,27.8 362.5,27.6 363.5,27.4 364.4,27.3 365.3,27.2 366.2,27.1 367.2,26.9 368.1,26.9 369.0,26.8 369.9,26.6 370.9,26.1 371.8,26.0 372.7,25.8 373.6,25.7 374.6,25.5 375.5,25.4 376.4,25.3 377.3,25.2 378.2,25.0 379.2,24.9 380.1,24.7 381.0,24.6 382.0,24.4 382.9,23.6 383.8,23.5 384.7,23.3 385.7,23.1 386.6,23.1 387.5,23.1 388.4,23.0 389.4,22.8 390.3,22.7 391.2,22.5 392.1,22.5 393.1,22.5 394.0,22.3 394.9,22.1 395.8,21.4 396.8,21.2 397.7,21.0 398.6,20.8 399.5,20.6 400.5,20.6 401.4,20.5 402.3,20.3 403.2,20.2 404.2,20.1 405.1,20.1 406.0,20.1 406.9,20.0 407.9,19.9 408.8,19.7 409.7,18.9 410.6,18.8 411.6,18.7 412.5,18.5 413.4,18.4 414.3,18.3 415.2,18.2 416.2,17.9 417.1,17.8 418.0,17.7 419.0,17.6 419.9,17.4 420.8,17.4 421.7,17.3 422.6,17.1 423.6,16.8 424.5,16.6 425.4,16.3 426.4,16.1 427.3,15.9 428.2,15.6 429.1,15.4 430.1,15.1 431.0,14.8 431.9,14.6 432.8,14.5 433.8,14.3 434.7,14.0 435.6,13.5 436.5,13.3 437.5,13.1 438.4,12.9 439.3,12.7"/>
</g>
<text x="254.3" y="194.3" font-size="7" text-anchor="middle">0.0</text><text x="246.7" y="183.5" font-size="7" text-anchor="end">0.0</text><text x="291.3" y="194.3" font-size="7" text-anchor="middle">0.2</text><text x="246.7" y="149.9" font-size="7" text-anchor="end">0.2</text><text x="328.3" y="194.3" font-size="7" text-anchor="middle">0.4</text><text x="246.7" y="116.3" font-size="7" text-anchor="end">0.4</text><text x="365.3" y="194.3" font-size="7" text-anchor="middle">0.6</text><text x="246.7" y="82.8" font-size="7" text-anchor="end">0.6</text><text x="402.3" y="194.3" font-size="7" text-anchor="middle">0.8</text><text x="246.7" y="49.2" font-size="7" text-anchor="end">0.8</text><text x="439.3" y="194.3" font-size="7" text-anchor="middle">1.0</text><text x="246.7" y="15.6" font-size="7" text-anchor="end">1.0</text>
<text x="345.9" y="8.1" font-size="10.15" text-anchor="middle">Gap Length 20 Minutes</text>
<text x="345.9" y="205" font-size="8.8" text-anchor="middle">1 - Specificity</text>
<text transform="translate(231.3 97.2) rotate(-90)" font-size="8.8" text-anchor="middle">Sensitivity</text>
<rect x="252.7" y="216.3" width="186.2" height="46.9" rx="1.6" fill="#eaeaf2" fill-opacity="0.8" stroke="#cccccc" stroke-width="0.6"/>
<path d="M258.7 222.7H271.4" stroke="#ff5a4d" stroke-width="1.5"/><text x="276.8" y="225.5" font-size="7.6">LSTM Internal AUC: 0.816 (0.762-0.867)</text>
<path d="M258.7 233.9H271.4" stroke="#a4c639" stroke-width="1.5"/><text x="276.8" y="236.8" font-size="7.6">LSTM External AUC: 0.783 (0.762-0.807)</text>
<path d="M258.7 245.2H271.4" stroke="#4285f4" stroke-width="1.5"/><text x="276.8" y="248.0" font-size="7.6">GRD-D Internal AUC: 0.792 (0.736-0.847)</text>
<path d="M258.7 256.4H271.4" stroke="#f032e6" stroke-width="1.5"/><text x="276.8" y="259.2" font-size="7.6">GRU-D External AUC: 0.816 (0.792-0.838)</text>
</g>
<g>
<rect x="476.8" y="11.1" width="186.9" height="171.2" fill="#eaeaf2"/>
<path d="M478.6 11.1V182.3M476.8 180.6H663.6M515.6 11.1V182.3M476.8 147.0H663.6M552.6 11.1V182.3M476.8 113.4H663.6M589.6 11.1V182.3M476.8 79.9H663.6M626.6 11.1V182.3M476.8 46.3H663.6M663.6 11.1V182.3M476.8 12.7H663.6" stroke="#fff" stroke-width="0.7" fill="none" clip-path="url(#c2)"/>
<g clip-path="url(#c2)">
<polygon fill="#ff5a4d" fill-opacity="0.32" points="478.6,180.6 479.0,168.7 479.3,156.8 479.7,144.9 480.1,133.0 480.5,131.3 480.8,129.5 481.2,127.6 481.6,125.8 481.9,124.0 482.3,122.2 482.7,120.4 483.0,118.7 483.4,116.9 483.8,115.1 484.2,112.2 484.5,111.4 484.9,110.5 485.3,109.7 485.6,109.7 486.0,109.3 486.4,108.5 486.7,107.7 487.1,106.8 487.5,106.0 487.9,105.1 488.8,102.6 489.7,100.1 490.6,97.6 491.6,94.7 492.5,92.2 493.4,89.6 494.3,87.1 495.2,84.6 496.2,83.1 497.1,81.7 498.0,80.2 499.0,78.7 499.9,77.3 500.8,75.8 501.7,74.3 502.7,72.9 503.6,72.9 504.5,72.9 505.4,72.6 506.4,71.8 507.3,71.1 508.2,70.4 509.1,69.7 510.1,69.0 511.0,68.2 511.9,67.5 512.8,66.8 513.8,66.1 514.7,64.1 515.6,63.4 516.5,62.7 517.5,62.1 518.4,61.4 519.3,60.7 520.2,60.1 521.1,59.4 522.1,58.7 523.0,58.0 523.9,57.4 524.9,56.7 525.8,56.0 526.7,53.8 527.6,53.2 528.6,52.5 529.5,51.8 530.4,51.2 531.3,50.5 532.2,49.8 533.2,49.1 534.1,48.5 535.0,48.5 536.0,47.8 536.9,47.0 537.8,46.2 538.7,45.5 539.6,44.7 540.6,44.0 541.5,43.2 542.4,42.5 543.4,42.5 544.3,42.5 545.2,41.9 546.1,41.2 547.1,40.4 548.0,39.7 548.9,38.8 549.8,38.1 550.8,37.3 551.7,36.6 552.6,35.6 553.5,34.9 554.5,34.1 555.4,33.4 556.3,32.6 557.2,31.9 558.1,31.1 559.1,30.5 560.0,29.8 560.9,29.2 561.9,28.5 562.8,27.9 563.7,27.3 564.6,26.6 565.5,25.8 566.5,25.1 567.4,24.4 568.3,21.0 569.2,20.5 570.2,19.9 571.1,19.4 572.0,18.9 573.0,18.4 573.9,17.9 574.8,17.4 575.7,16.9 576.7,16.3 577.6,16.2 578.5,16.0 579.4,16.0 580.4,16.0 581.3,16.0 582.2,16.0 583.1,16.0 584.1,16.0 585.0,16.0 585.9,16.0 586.8,16.0 587.8,15.9 588.7,15.7 589.6,15.5 590.5,15.5 591.5,15.5 592.4,15.5 593.3,15.5 594.2,15.4 595.1,15.2 596.1,15.0 597.0,14.7 597.9,14.5 598.9,14.3 599.8,14.2 600.7,14.1 601.6,12.7 602.6,12.7 603.5,12.7 604.4,12.7 605.3,12.7 606.2,12.7 607.2,12.7 608.1,12.7 609.0,12.7 610.0,12.7 610.9,12.7 611.8,12.7 612.7,12.7 613.7,12.7 614.6,12.7 615.5,12.7 616.4,12.7 617.4,12.7 618.3,12.7 619.2,12.7 620.1,12.7 621.1,12.7 622.0,12.7 622.9,12.7 623.8,12.7 624.8,12.7 625.7,12.7 626.6,12.7 627.5,12.7 628.5,12.7 629.4,12.7 630.3,12.7 631.2,12.7 632.2,12.7 633.1,12.7 634.0,12.7 634.9,12.7 635.9,12.7 636.8,12.7 637.7,12.7 638.6,12.7 639.6,12.7 640.5,12.7 641.4,12.7 642.3,12.7 643.2,12.7 644.2,12.7 645.1,12.7 646.0,12.7 647.0,12.7 647.9,12.7 648.8,12.7 649.7,12.7 650.7,12.7 651.6,12.7 652.5,12.7 653.4,12.7 654.4,12.7 655.3,12.7 656.2,12.7 657.1,12.7 658.1,12.7 659.0,12.7 659.9,12.7 660.8,12.7 661.8,12.7 662.7,12.7 663.6,12.7 663.6,12.7 662.7,12.7 661.8,12.7 660.8,12.7 659.9,12.7 659.0,12.7 658.1,12.7 657.1,12.7 656.2,12.7 655.3,12.7 654.4,12.7 653.4,12.7 652.5,12.7 651.6,12.7 650.7,12.7 649.7,12.7 648.8,12.7 647.9,12.7 647.0,12.7 646.0,12.7 645.1,12.7 644.2,12.7 643.2,12.7 642.3,12.7 641.4,12.7 640.5,12.7 639.6,12.7 638.6,12.7 637.7,13.7 636.8,13.7 635.9,13.8 634.9,13.8 634.0,13.8 633.1,17.3 632.2,17.7 631.2,17.7 630.3,17.7 629.4,17.7 628.5,17.7 627.5,17.7 626.6,17.7 625.7,17.7 624.8,17.7 623.8,17.8 622.9,17.8 622.0,17.9 621.1,17.9 620.1,20.1 619.2,20.1 618.3,20.1 617.4,20.1 616.4,20.1 615.5,20.1 614.6,20.1 613.7,20.1 612.7,20.1 611.8,20.1 610.9,20.6 610.0,21.0 609.0,21.4 608.1,21.4 607.2,21.9 606.2,22.3 605.3,22.8 604.4,23.3 603.5,25.6 602.6,26.0 601.6,26.5 600.7,27.0 599.8,27.5 598.9,28.0 597.9,28.6 597.0,29.1 596.1,29.6 595.1,30.1 594.2,30.6 593.3,31.1 592.4,31.3 591.5,31.8 590.5,32.3 589.6,32.8 588.7,33.1 587.8,33.8 586.8,34.5 585.9,35.2 585.0,35.8 584.1,36.5 583.1,37.2 582.2,37.8 581.3,38.5 580.4,39.2 579.4,39.8 578.5,39.8 577.6,40.5 576.7,41.2 575.7,41.8 574.8,42.5 573.9,44.5 573.0,45.2 572.0,45.9 571.1,46.6 570.2,47.6 569.2,48.6 568.3,50.4 567.4,51.4 566.5,52.4 565.5,53.4 564.6,54.4 563.7,55.4 562.8,56.5 561.9,57.5 560.9,58.1 560.0,58.8 559.1,59.6 558.1,60.2 557.2,60.9 556.3,61.4 555.4,61.4 554.5,61.4 553.5,61.4 552.6,61.4 551.7,62.0 550.8,62.7 549.8,63.3 548.9,64.0 548.0,64.5 547.1,65.0 546.1,65.5 545.2,66.1 544.3,66.6 543.4,67.1 542.4,67.6 541.5,68.6 540.6,69.2 539.6,69.7 538.7,70.2 537.8,71.0 536.9,71.9 536.0,73.2 535.0,74.4 534.1,75.7 533.2,77.1 532.2,78.5 531.3,79.5 530.4,80.5 529.5,81.5 528.6,82.5 527.6,83.5 526.7,84.3 525.8,85.1 524.9,85.9 523.9,86.7 523.0,87.5 522.1,88.3 521.1,89.1 520.2,89.9 519.3,93.2 518.4,94.0 517.5,94.8 516.5,95.8 515.6,96.8 514.7,97.8 513.8,98.8 512.8,99.8 511.9,100.8 511.0,101.8 510.1,102.8 509.1,103.3 508.2,103.3 507.3,103.3 506.4,104.1 505.4,104.6 504.5,105.2 503.6,105.8 502.7,106.4 501.7,107.2 500.8,108.4 499.9,110.5 499.0,111.7 498.0,112.8 497.1,115.7 496.2,118.9 495.2,122.1 494.3,125.4 493.4,128.6 492.5,132.3 491.6,133.3 490.6,134.3 489.7,135.3 488.8,136.3 487.9,137.3 487.5,137.7 487.1,138.4 486.7,139.5 486.4,140.3 486.0,140.3 485.6,141.4 485.3,142.4 484.9,143.5 484.5,144.5 484.2,145.6 483.8,146.5 483.4,148.0 483.0,149.8 482.7,151.6 482.3,153.5 481.9,155.4 481.6,157.2 481.2,159.6 480.8,162.6 480.5,165.6 480.1,168.7 479.7,171.7 479.3,174.7 479.0,177.7 478.6,180.6"/>
<polyline fill="none" stroke="#ff5a4d" stroke-width="1.25" stroke-opacity="0.95" stroke-linejoin="round" filter="url(#bl)" points="478.6,180.6 479.0,175.0 479.3,169.4 479.7,163.8 480.1,158.2 480.5,152.6 480.8,147.0 481.2,145.1 481.6,143.3 481.9,141.4 482.3,139.5 482.7,137.7 483.0,135.8 483.4,133.9 483.8,132.1 484.2,130.2 484.5,129.0 484.9,127.9 485.3,126.8 485.6,126.1 486.0,125.0 486.4,123.9 486.7,122.8 487.1,121.7 487.5,120.5 487.9,118.6 488.8,115.8 489.7,113.0 490.6,112.1 491.6,111.2 492.5,110.3 493.4,109.7 494.3,108.8 495.2,107.9 496.2,105.6 497.1,103.5 498.0,101.3 499.0,99.2 499.9,97.1 500.8,95.0 501.7,93.0 502.7,91.9 503.6,90.9 504.5,89.9 505.4,88.9 506.4,87.9 507.3,86.8 508.2,86.4 509.1,85.4 510.1,84.3 511.0,83.0 511.9,81.9 512.8,80.9 513.8,79.8 514.7,79.2 515.6,78.6 516.5,77.5 517.5,76.9 518.4,76.3 519.3,76.0 520.2,75.4 521.1,74.8 522.1,74.1 523.0,73.5 523.9,72.9 524.9,72.3 525.8,71.6 526.7,70.9 527.6,70.1 528.6,69.3 529.5,68.4 530.4,67.8 531.3,67.0 532.2,66.1 533.2,65.3 534.1,64.5 535.0,63.5 536.0,62.2 536.9,61.3 537.8,60.4 538.7,60.2 539.6,59.2 540.6,58.3 541.5,57.5 542.4,56.4 543.4,56.0 544.3,55.6 545.2,55.3 546.1,54.9 547.1,54.5 548.0,54.1 548.9,54.1 549.8,53.6 550.8,52.8 551.7,52.0 552.6,51.2 553.5,50.4 554.5,49.6 555.4,48.8 556.3,48.1 557.2,47.3 558.1,46.5 559.1,45.3 560.0,44.1 560.9,42.2 561.9,41.0 562.8,39.8 563.7,38.6 564.6,37.6 565.5,36.6 566.5,35.5 567.4,34.6 568.3,33.6 569.2,32.6 570.2,31.6 571.1,31.0 572.0,31.0 573.0,30.3 573.9,29.7 574.8,29.0 575.7,28.4 576.7,27.7 577.6,27.5 578.5,27.3 579.4,27.0 580.4,26.8 581.3,26.3 582.2,26.0 583.1,25.8 584.1,25.5 585.0,25.5 585.9,25.3 586.8,25.0 587.8,24.8 588.7,24.6 589.6,24.3 590.5,23.9 591.5,23.5 592.4,23.1 593.3,22.7 594.2,22.3 595.1,21.2 596.1,20.8 597.0,20.4 597.9,19.9 598.9,19.9 599.8,19.8 600.7,19.3 601.6,18.9 602.6,18.4 603.5,17.8 604.4,17.4 605.3,17.0 606.2,16.7 607.2,16.4 608.1,15.9 609.0,15.5 610.0,15.2 610.9,14.9 611.8,14.6 612.7,14.5 613.7,14.5 614.6,14.5 615.5,14.5 616.4,14.5 617.4,14.5 618.3,14.5 619.2,14.3 620.1,14.3 621.1,14.3 622.0,14.3 622.9,14.2 623.8,14.2 624.8,14.2 625.7,14.2 626.6,14.2 627.5,14.2 628.5,14.2 629.4,14.1 630.3,13.8 631.2,13.5 632.2,13.2 633.1,12.9 634.0,12.9 634.9,12.7 635.9,12.7 636.8,12.7 637.7,12.7 638.6,12.7 639.6,12.7 640.5,12.7 641.4,12.7 642.3,12.7 643.2,12.7 644.2,12.7 645.1,12.7 646.0,12.7 647.0,12.7 647.9,12.7 648.8,12.7 649.7,12.7 650.7,12.7 651.6,12.7 652.5,12.7 653.4,12.7 654.4,12.7 655.3,12.7 656.2,12.7 657.1,12.7 658.1,12.7 659.0,12.7 659.9,12.7 660.8,12.7 661.8,12.7 662.7,12.7 663.6,12.7"/>
<polygon fill="#a4c639" fill-opacity="0.32" points="478.6,180.6 479.0,145.2 479.3,143.3 479.7,141.5 480.1,139.6 480.5,137.8 480.8,136.0 481.2,134.1 481.6,132.3 481.9,130.6 482.3,129.9 482.7,129.2 483.0,128.3 483.4,127.6 483.8,126.9 484.2,125.9 484.5,125.2 484.9,124.5 485.3,123.4 485.6,122.7 486.0,122.0 486.4,121.3 486.7,120.7 487.1,120.0 487.5,119.3 487.9,118.7 488.8,117.2 489.7,115.8 490.6,114.1 491.6,112.4 492.5,111.4 493.4,110.0 494.3,108.3 495.2,106.6 496.2,105.0 497.1,103.4 498.0,101.6 499.0,99.5 499.9,97.9 500.8,96.2 501.7,94.4 502.7,93.3 503.6,92.2 504.5,90.6 505.4,89.6 506.4,88.6 507.3,87.6 508.2,86.6 509.1,84.9 510.1,83.9 511.0,82.9 511.9,80.7 512.8,79.4 513.8,78.3 514.7,76.6 515.6,76.1 516.5,75.6 517.5,74.9 518.4,74.4 519.3,74.4 520.2,73.2 521.1,72.4 522.1,71.6 523.0,70.8 523.9,70.0 524.9,67.9 525.8,67.1 526.7,66.2 527.6,65.9 528.6,65.0 529.5,64.1 530.4,62.9 531.3,62.0 532.2,61.1 533.2,60.1 534.1,60.1 535.0,59.8 536.0,59.4 536.9,58.7 537.8,57.2 538.7,56.5 539.6,55.8 540.6,54.6 541.5,53.9 542.4,53.3 543.4,52.8 544.3,52.2 545.2,51.7 546.1,51.1 547.1,50.6 548.0,50.6 548.9,50.6 549.8,50.4 550.8,49.9 551.7,49.3 552.6,48.5 553.5,47.4 554.5,47.0 555.4,46.5 556.3,45.9 557.2,44.6 558.1,44.2 559.1,44.2 560.0,44.0 560.9,43.5 561.9,43.1 562.8,42.3 563.7,40.9 564.6,39.4 565.5,38.4 566.5,37.7 567.4,36.8 568.3,36.4 569.2,36.1 570.2,35.9 571.1,35.1 572.0,35.0 573.0,34.8 573.9,34.5 574.8,34.3 575.7,33.9 576.7,33.7 577.6,33.4 578.5,33.2 579.4,32.2 580.4,32.0 581.3,31.7 582.2,31.7 583.1,31.7 584.1,31.5 585.0,31.5 585.9,31.5 586.8,31.5 587.8,31.4 588.7,31.2 589.6,30.9 590.5,30.6 591.5,30.3 592.4,30.1 593.3,29.8 594.2,29.5 595.1,29.3 596.1,28.2 597.0,28.0 597.9,27.7 598.9,27.5 599.8,27.5 600.7,27.5 601.6,27.2 602.6,26.9 603.5,25.5 604.4,25.2 605.3,25.0 606.2,24.9 607.2,24.7 608.1,24.4 609.0,24.4 610.0,24.4 610.9,24.4 611.8,23.9 612.7,23.6 613.7,23.0 614.6,22.7 615.5,22.5 616.4,22.2 617.4,22.1 618.3,22.1 619.2,22.1 620.1,21.9 621.1,21.7 622.0,21.7 622.9,21.5 623.8,21.3 624.8,20.9 625.7,20.6 626.6,20.5 627.5,20.3 628.5,20.1 629.4,19.9 630.3,19.7 631.2,18.7 632.2,18.1 633.1,17.9 634.0,17.7 634.9,17.5 635.9,17.3 636.8,17.0 637.7,16.9 638.6,16.9 639.6,16.9 640.5,16.9 641.4,16.9 642.3,16.9 643.2,15.9 644.2,15.7 645.1,15.5 646.0,15.3 647.0,15.3 647.9,15.3 648.8,15.3 649.7,15.3 650.7,15.3 651.6,14.3 652.5,14.1 653.4,13.9 654.4,13.9 655.3,13.9 656.2,13.9 657.1,13.9 658.1,13.5 659.0,13.3 659.9,13.1 660.8,12.9 661.8,12.7 662.7,12.7 663.6,12.7 663.6,13.2 662.7,13.3 661.8,13.6 660.8,14.0 659.9,14.4 659.0,14.6 658.1,14.7 657.1,14.7 656.2,15.0 655.3,15.2 654.4,15.3 653.4,15.3 652.5,16.0 651.6,16.2 650.7,16.5 649.7,16.8 648.8,17.0 647.9,17.0 647.0,17.0 646.0,17.0 645.1,17.3 644.2,17.5 643.2,17.8 642.3,18.2 641.4,18.4 640.5,18.7 639.6,18.7 638.6,19.8 637.7,20.0 636.8,20.3 635.9,20.6 634.9,20.9 634.0,21.1 633.1,21.3 632.2,21.5 631.2,22.2 630.3,22.5 629.4,22.7 628.5,22.9 627.5,23.3 626.6,23.5 625.7,23.8 624.8,24.1 623.8,24.5 622.9,24.8 622.0,25.1 621.1,25.1 620.1,25.4 619.2,25.5 618.3,25.5 617.4,25.5 616.4,25.8 615.5,26.0 614.6,26.3 613.7,26.6 612.7,27.3 611.8,27.4 610.9,27.4 610.0,27.4 609.0,27.7 608.1,28.0 607.2,28.3 606.2,28.4 605.3,28.4 604.4,28.7 603.5,29.0 602.6,29.4 601.6,30.1 600.7,30.4 599.8,30.7 598.9,30.7 597.9,31.0 597.0,31.4 596.1,31.7 595.1,32.9 594.2,33.2 593.3,33.5 592.4,34.3 591.5,34.6 590.5,34.9 589.6,35.1 588.7,35.3 587.8,35.3 586.8,35.3 585.9,35.4 585.0,35.7 584.1,36.3 583.1,36.6 582.2,36.6 581.3,36.6 580.4,36.8 579.4,37.1 578.5,37.3 577.6,37.6 576.7,37.9 575.7,38.1 574.8,38.5 573.9,38.8 573.0,39.0 572.0,39.3 571.1,39.7 570.2,40.6 569.2,40.8 568.3,41.3 567.4,42.9 566.5,44.4 565.5,45.6 564.6,46.3 563.7,47.7 562.8,48.3 561.9,48.3 560.9,48.8 560.0,49.2 559.1,49.5 558.1,49.5 557.2,49.9 556.3,50.3 555.4,51.0 554.5,51.4 553.5,51.7 552.6,52.8 551.7,53.4 550.8,54.0 549.8,54.6 548.9,55.9 548.0,56.5 547.1,56.8 546.1,57.2 545.2,57.2 544.3,57.8 543.4,58.3 542.4,58.9 541.5,59.5 540.6,60.2 539.6,61.0 538.7,61.7 537.8,63.2 536.9,63.9 536.0,64.7 535.0,65.2 534.1,65.9 533.2,66.7 532.2,67.7 531.3,68.7 530.4,69.5 529.5,70.7 528.6,71.7 527.6,72.6 526.7,72.9 525.8,73.4 524.9,74.2 523.9,75.2 523.0,76.0 522.1,76.8 521.1,77.6 520.2,78.5 519.3,79.4 518.4,80.2 517.5,80.7 516.5,81.4 515.6,83.2 514.7,85.3 513.8,86.7 512.8,87.8 511.9,89.4 511.0,90.0 510.1,90.0 509.1,91.0 508.2,92.0 507.3,93.3 506.4,94.3 505.4,95.6 504.5,97.4 503.6,99.0 502.7,101.1 501.7,102.9 500.8,104.5 499.9,106.1 499.0,107.8 498.0,109.4 497.1,110.9 496.2,112.4 495.2,114.1 494.3,115.8 493.4,117.3 492.5,118.8 491.6,120.5 490.6,122.3 489.7,124.0 488.8,126.4 487.9,128.1 487.5,128.6 487.1,129.3 486.7,130.0 486.4,130.7 486.0,131.8 485.6,133.7 485.3,135.6 484.9,137.4 484.5,138.9 484.2,140.7 483.8,143.1 483.4,145.0 483.0,146.9 482.7,152.5 482.3,158.1 481.9,163.7 481.6,169.3 481.2,174.9 480.8,180.5 480.5,180.5 480.1,180.5 479.7,180.5 479.3,180.5 479.0,180.5 478.6,180.6"/>
<polyline fill="none" stroke="#a4c639" stroke-width="1.25" stroke-opacity="0.95" stroke-linejoin="round" filter="url(#bl)" points="478.6,180.6 479.0,175.0 479.3,169.4 479.7,163.8 480.1,158.2 480.5,152.6 480.8,147.0 481.2,145.1 481.6,143.2 481.9,141.4 482.3,139.5 482.7,137.7 483.0,135.9 483.4,134.0 483.8,132.1 484.2,130.5 484.5,129.8 484.9,129.1 485.3,128.4 485.6,127.7 486.0,127.0 486.4,126.4 486.7,125.7 487.1,125.0 487.5,123.6 487.9,122.9 488.8,121.2 489.7,119.5 490.6,117.8 491.6,116.6 492.5,114.9 493.4,113.2 494.3,111.5 495.2,110.2 496.2,108.5 497.1,106.8 498.0,105.1 499.0,103.5 499.9,102.0 500.8,100.0 501.7,98.4 502.7,96.8 503.6,94.9 504.5,93.3 505.4,92.3 506.4,91.3 507.3,90.2 508.2,89.3 509.1,88.2 510.1,87.2 511.0,86.8 511.9,85.8 512.8,84.2 513.8,81.6 514.7,79.9 515.6,79.4 516.5,78.9 517.5,78.2 518.4,77.7 519.3,77.0 520.2,75.7 521.1,74.9 522.1,74.0 523.0,73.2 523.9,72.4 524.9,71.4 525.8,70.6 526.7,69.7 527.6,69.5 528.6,68.5 529.5,67.6 530.4,66.4 531.3,65.5 532.2,64.5 533.2,63.6 534.1,62.7 535.0,62.0 536.0,61.5 536.9,60.8 537.8,60.1 538.7,59.4 539.6,58.7 540.6,58.0 541.5,57.3 542.4,56.7 543.4,56.1 544.3,55.5 545.2,55.0 546.1,54.4 547.1,53.9 548.0,53.5 548.9,53.0 549.8,52.4 550.8,51.8 551.7,51.3 552.6,50.7 553.5,49.6 554.5,49.1 555.4,48.7 556.3,48.1 557.2,47.6 558.1,47.2 559.1,47.2 560.0,46.9 560.9,46.5 561.9,46.0 562.8,45.6 563.7,44.7 564.6,43.3 565.5,41.8 566.5,40.3 567.4,38.9 568.3,38.5 569.2,38.2 570.2,37.9 571.1,37.1 572.0,36.9 573.0,36.6 573.9,36.4 574.8,36.1 575.7,35.7 576.7,35.5 577.6,35.2 578.5,35.0 579.4,34.7 580.4,34.5 581.3,34.2 582.2,34.2 583.1,34.2 584.1,33.9 585.0,33.7 585.9,33.4 586.8,33.3 587.8,33.0 588.7,32.8 589.6,32.5 590.5,32.3 591.5,32.0 592.4,31.8 593.3,31.5 594.2,31.2 595.1,31.0 596.1,29.8 597.0,29.5 597.9,29.3 598.9,29.0 599.8,28.9 600.7,28.6 601.6,28.4 602.6,28.1 603.5,27.7 604.4,27.4 605.3,27.1 606.2,27.1 607.2,26.8 608.1,26.5 609.0,26.2 610.0,25.9 610.9,25.9 611.8,25.7 612.7,25.4 613.7,24.7 614.6,24.4 615.5,24.2 616.4,23.9 617.4,23.7 618.3,23.7 619.2,23.7 620.1,23.5 621.1,23.2 622.0,23.0 622.9,22.7 623.8,22.4 624.8,22.0 625.7,21.8 626.6,21.5 627.5,21.3 628.5,21.1 629.4,20.9 630.3,20.7 631.2,20.5 632.2,19.8 633.1,19.6 634.0,19.4 634.9,19.2 635.9,19.0 636.8,18.7 637.7,18.5 638.6,18.3 639.6,18.3 640.5,18.2 641.4,18.0 642.3,17.8 643.2,17.4 644.2,17.2 645.1,16.9 646.0,16.7 647.0,16.5 647.9,16.3 648.8,16.1 649.7,16.0 650.7,15.8 651.6,15.6 652.5,15.4 653.4,15.2 654.4,15.2 655.3,15.0 656.2,14.8 657.1,14.5 658.1,14.3 659.0,14.0 659.9,13.5 660.8,13.3 661.8,13.1 662.7,12.9 663.6,12.7"/>
<polygon fill="#f032e6" fill-opacity="0.32" points="478.6,180.6 479.0,134.7 479.3,132.2 479.7,130.7 480.1,129.2 480.5,127.7 480.8,126.1 481.2,124.6 481.6,123.1 481.9,121.6 482.3,120.1 482.7,118.6 483.0,117.1 483.4,115.6 483.8,114.4 484.2,112.8 484.5,111.7 484.9,110.6 485.3,109.5 485.6,108.3 486.0,107.2 486.4,105.8 486.7,104.8 487.1,103.9 487.5,103.1 487.9,102.4 488.8,99.8 489.7,97.6 490.6,96.0 491.6,94.9 492.5,93.3 493.4,91.8 494.3,90.2 495.2,88.7 496.2,87.2 497.1,86.2 498.0,84.6 499.0,83.0 499.9,81.4 500.8,79.8 501.7,78.2 502.7,75.6 503.6,74.0 504.5,73.1 505.4,72.3 506.4,71.6 507.3,70.8 508.2,70.0 509.1,69.6 510.1,68.8 511.0,68.0 511.9,67.0 512.8,66.0 513.8,65.1 514.7,64.2 515.6,63.3 516.5,62.4 517.5,61.6 518.4,61.1 519.3,60.8 520.2,60.3 521.1,59.7 522.1,59.2 523.0,58.6 523.9,58.1 524.9,57.5 525.8,56.7 526.7,56.1 527.6,55.6 528.6,55.1 529.5,54.9 530.4,54.4 531.3,53.7 532.2,53.2 533.2,52.7 534.1,52.1 535.0,51.6 536.0,51.6 536.9,50.6 537.8,50.1 538.7,49.6 539.6,49.0 540.6,48.5 541.5,47.3 542.4,46.9 543.4,46.6 544.3,46.2 545.2,46.2 546.1,46.2 547.1,46.2 548.0,45.4 548.9,45.1 549.8,44.7 550.8,44.1 551.7,43.7 552.6,43.3 553.5,43.2 554.5,43.0 555.4,43.0 556.3,42.9 557.2,42.7 558.1,42.5 559.1,42.4 560.0,42.4 560.9,42.1 561.9,41.9 562.8,41.7 563.7,41.1 564.6,40.6 565.5,40.2 566.5,40.1 567.4,39.9 568.3,39.4 569.2,38.4 570.2,38.0 571.1,37.6 572.0,37.2 573.0,36.8 573.9,36.6 574.8,36.6 575.7,36.6 576.7,36.6 577.6,36.3 578.5,36.0 579.4,35.5 580.4,35.2 581.3,35.0 582.2,34.7 583.1,34.5 584.1,33.5 585.0,33.3 585.9,33.1 586.8,33.1 587.8,33.1 588.7,33.1 589.6,32.0 590.5,31.7 591.5,31.7 592.4,31.5 593.3,31.2 594.2,30.9 595.1,30.9 596.1,30.2 597.0,29.8 597.9,28.9 598.9,28.6 599.8,28.2 600.7,27.9 601.6,27.6 602.6,27.6 603.5,27.4 604.4,27.4 605.3,27.4 606.2,27.4 607.2,27.4 608.1,27.2 609.0,26.9 610.0,26.7 610.9,26.5 611.8,25.7 612.7,25.5 613.7,25.3 614.6,25.0 615.5,24.8 616.4,24.8 617.4,24.6 618.3,24.3 619.2,23.9 620.1,23.7 621.1,23.4 622.0,23.1 622.9,22.8 623.8,22.6 624.8,22.6 625.7,22.4 626.6,22.2 627.5,22.0 628.5,21.8 629.4,21.6 630.3,20.8 631.2,20.1 632.2,19.9 633.1,19.7 634.0,19.7 634.9,19.7 635.9,19.7 636.8,19.7 637.7,19.4 638.6,19.1 639.6,18.3 640.5,18.1 641.4,17.9 642.3,17.7 643.2,17.7 644.2,17.7 645.1,17.7 646.0,17.6 647.0,17.6 647.9,17.2 648.8,17.0 649.7,16.8 650.7,16.7 651.6,16.5 652.5,16.1 653.4,15.9 654.4,15.9 655.3,15.9 656.2,15.6 657.1,15.2 658.1,15.0 659.0,14.6 659.9,14.0 660.8,13.2 661.8,12.7 662.7,12.7 663.6,12.7 663.6,14.6 662.7,15.3 661.8,15.9 660.8,16.4 659.9,17.1 659.0,17.7 658.1,18.1 657.1,18.3 656.2,18.8 655.3,19.4 654.4,19.6 653.4,19.9 652.5,20.1 651.6,20.7 650.7,20.9 649.7,20.9 648.8,20.9 647.9,21.2 647.0,21.3 646.0,21.3 645.1,22.7 644.2,23.0 643.2,23.2 642.3,23.6 641.4,23.8 640.5,24.1 639.6,24.4 638.6,25.0 637.7,25.3 636.8,25.5 635.9,25.6 634.9,25.6 634.0,25.6 633.1,25.6 632.2,25.9 631.2,26.1 630.3,26.4 629.4,27.0 628.5,27.0 627.5,27.0 626.6,27.3 625.7,27.5 624.8,27.9 623.8,28.2 622.9,28.7 622.0,29.1 621.1,29.4 620.1,29.7 619.2,30.1 618.3,30.4 617.4,30.7 616.4,30.9 615.5,30.9 614.6,31.3 613.7,31.6 612.7,31.8 611.8,32.1 610.9,32.4 610.0,32.7 609.0,33.6 608.1,33.9 607.2,34.2 606.2,34.5 605.3,34.7 604.4,34.8 603.5,34.8 602.6,35.1 601.6,35.1 600.7,35.4 599.8,35.8 598.9,36.3 597.9,36.9 597.0,37.3 596.1,37.7 595.1,38.5 594.2,38.8 593.3,39.0 592.4,39.0 591.5,39.0 590.5,39.0 589.6,39.3 588.7,39.6 587.8,39.9 586.8,40.2 585.9,40.4 585.0,41.2 584.1,41.4 583.1,42.5 582.2,42.8 581.3,43.0 580.4,43.3 579.4,44.2 578.5,44.5 577.6,44.7 576.7,45.1 575.7,45.1 574.8,45.1 573.9,45.1 573.0,45.4 572.0,45.8 571.1,46.3 570.2,46.8 569.2,47.3 568.3,47.5 567.4,48.0 566.5,48.4 565.5,48.5 564.6,49.0 563.7,49.5 562.8,49.7 561.9,49.9 560.9,50.1 560.0,50.3 559.1,50.3 558.1,50.4 557.2,50.6 556.3,50.8 555.4,51.0 554.5,51.2 553.5,51.4 552.6,51.5 551.7,51.9 550.8,52.3 549.8,53.0 548.9,53.4 548.0,53.8 547.1,54.6 546.1,55.0 545.2,55.3 544.3,55.7 543.4,56.1 542.4,56.8 541.5,57.2 540.6,57.4 539.6,58.0 538.7,58.5 537.8,59.0 536.9,59.6 536.0,60.9 535.0,61.5 534.1,62.1 533.2,62.7 532.2,63.2 531.3,64.1 530.4,64.6 529.5,65.2 528.6,65.4 527.6,65.9 526.7,66.5 525.8,66.5 524.9,67.5 523.9,68.1 523.0,68.7 522.1,69.3 521.1,69.9 520.2,70.5 519.3,71.8 518.4,72.1 517.5,73.0 516.5,73.9 515.6,74.8 514.7,75.7 513.8,76.7 512.8,76.8 511.9,77.9 511.0,78.8 510.1,79.6 509.1,80.4 508.2,80.8 507.3,81.6 506.4,82.3 505.4,83.7 504.5,84.4 503.6,85.4 502.7,87.0 501.7,88.9 500.8,90.7 499.9,92.3 499.0,93.9 498.0,95.5 497.1,97.1 496.2,98.7 495.2,100.3 494.3,101.7 493.4,103.2 492.5,104.8 491.6,106.3 490.6,107.1 489.7,109.3 488.8,112.1 487.9,115.0 487.5,117.5 487.1,119.0 486.7,120.5 486.4,122.0 486.0,123.1 485.6,124.7 485.3,126.2 484.9,127.8 484.5,129.3 484.2,130.8 483.8,132.3 483.4,134.8 483.0,138.3 482.7,141.8 482.3,145.3 481.9,151.7 481.6,161.3 481.2,170.9 480.8,180.5 480.5,180.6 480.1,180.6 479.7,180.6 479.3,180.6 479.0,180.6 478.6,180.6"/>
<polyline fill="none" stroke="#f032e6" stroke-width="1.25" stroke-opacity="0.95" stroke-linejoin="round" filter="url(#bl)" points="478.6,180.6 479.0,171.0 479.3,161.4 479.7,151.8 480.1,145.2 480.5,141.7 480.8,138.2 481.2,134.8 481.6,132.3 481.9,130.8 482.3,129.2 482.7,127.7 483.0,126.1 483.4,124.6 483.8,123.1 484.2,121.5 484.5,120.0 484.9,118.5 485.3,117.0 485.6,115.5 486.0,114.4 486.4,113.1 486.7,112.0 487.1,110.9 487.5,109.8 487.9,108.7 488.8,105.9 489.7,103.7 490.6,102.1 491.6,100.6 492.5,99.0 493.4,97.5 494.3,96.0 495.2,94.4 496.2,92.9 497.1,91.3 498.0,89.7 499.0,88.1 499.9,86.5 500.8,84.9 501.7,83.3 502.7,81.4 503.6,79.8 504.5,78.9 505.4,78.1 506.4,77.3 507.3,76.5 508.2,75.8 509.1,75.4 510.1,74.6 511.0,73.8 511.9,72.9 512.8,71.9 513.8,71.0 514.7,70.1 515.6,69.2 516.5,68.3 517.5,67.4 518.4,66.5 519.3,66.2 520.2,65.6 521.1,65.1 522.1,64.5 523.0,63.9 523.9,63.4 524.9,62.8 525.8,61.8 526.7,61.2 527.6,60.6 528.6,60.1 529.5,59.9 530.4,59.4 531.3,58.8 532.2,58.3 533.2,57.8 534.1,57.2 535.0,56.7 536.0,56.1 536.9,54.8 537.8,54.3 538.7,53.7 539.6,53.2 540.6,52.6 541.5,52.5 542.4,52.1 543.4,51.7 544.3,51.3 545.2,50.9 546.1,50.6 547.1,50.2 548.0,49.8 548.9,49.4 549.8,49.1 550.8,48.4 551.7,48.0 552.6,47.6 553.5,47.5 554.5,47.3 555.4,47.1 556.3,46.9 557.2,46.7 558.1,46.5 559.1,46.4 560.0,46.4 560.9,46.2 561.9,46.0 562.8,45.8 563.7,45.6 564.6,45.2 565.5,44.7 566.5,44.6 567.4,44.2 568.3,43.7 569.2,42.7 570.2,42.2 571.1,41.8 572.0,41.3 573.0,40.8 573.9,40.6 574.8,40.6 575.7,40.6 576.7,40.6 577.6,40.3 578.5,40.0 579.4,39.7 580.4,39.5 581.3,39.2 582.2,39.0 583.1,38.7 584.1,37.7 585.0,37.4 585.9,37.2 586.8,37.0 587.8,36.7 588.7,36.5 589.6,36.2 590.5,35.9 591.5,35.9 592.4,35.6 593.3,35.3 594.2,35.0 595.1,34.6 596.1,33.9 597.0,33.5 597.9,33.2 598.9,32.9 599.8,32.4 600.7,32.0 601.6,31.7 602.6,31.7 603.5,31.5 604.4,31.3 605.3,31.0 606.2,30.8 607.2,30.5 608.1,30.3 609.0,30.0 610.0,29.8 610.9,29.6 611.8,29.3 612.7,29.0 613.7,28.8 614.6,28.5 615.5,28.2 616.4,28.2 617.4,28.0 618.3,27.7 619.2,27.4 620.1,27.1 621.1,26.8 622.0,26.5 622.9,26.2 623.8,25.9 624.8,25.6 625.7,25.3 626.6,25.1 627.5,24.8 628.5,24.6 629.4,24.3 630.3,23.5 631.2,23.3 632.2,23.0 633.1,22.8 634.0,22.8 634.9,22.8 635.9,22.8 636.8,22.7 637.7,22.5 638.6,22.3 639.6,21.3 640.5,21.1 641.4,20.8 642.3,20.6 643.2,20.3 644.2,20.1 645.1,19.9 646.0,19.7 647.0,19.7 647.9,19.6 648.8,19.4 649.7,19.2 650.7,18.9 651.6,18.7 652.5,18.2 653.4,18.0 654.4,17.8 655.3,17.6 656.2,17.3 657.1,16.9 658.1,16.7 659.0,16.2 659.9,15.7 660.8,15.1 661.8,14.3 662.7,13.5 663.6,12.7"/>
<polygon fill="#4285f4" fill-opacity="0.32" points="478.6,180.6 479.0,164.0 479.3,147.1 479.7,130.3 480.1,127.9 480.5,125.5 480.8,123.2 481.2,120.8 481.6,118.4 481.9,116.0 482.3,113.1 482.7,111.5 483.0,109.8 483.4,108.1 483.8,106.4 484.2,103.6 484.5,103.6 484.9,103.6 485.3,102.9 485.6,101.7 486.0,100.4 486.4,99.1 486.7,97.9 487.1,96.6 487.5,95.3 487.9,94.2 488.8,92.1 489.7,89.9 490.6,87.7 491.6,85.8 492.5,84.2 493.4,82.7 494.3,81.1 495.2,79.9 496.2,79.0 497.1,78.0 498.0,77.0 499.0,75.4 499.9,74.4 500.8,73.4 501.7,72.5 502.7,71.5 503.6,70.5 504.5,69.5 505.4,68.5 506.4,67.5 507.3,66.5 508.2,65.5 509.1,64.1 510.1,63.1 511.0,62.0 511.9,61.7 512.8,61.3 513.8,60.9 514.7,60.5 515.6,60.1 516.5,59.7 517.5,59.3 518.4,58.9 519.3,58.3 520.2,56.2 521.1,55.5 522.1,54.8 523.0,54.1 523.9,53.4 524.9,52.6 525.8,51.7 526.7,50.7 527.6,49.9 528.6,49.0 529.5,48.0 530.4,46.8 531.3,45.6 532.2,45.6 533.2,44.7 534.1,43.7 535.0,43.1 536.0,42.4 536.9,41.8 537.8,41.2 538.7,40.5 539.6,39.9 540.6,39.2 541.5,38.6 542.4,38.3 543.4,38.1 544.3,37.2 545.2,36.9 546.1,36.7 547.1,36.4 548.0,34.5 548.9,34.3 549.8,34.1 550.8,33.8 551.7,33.6 552.6,33.4 553.5,33.2 554.5,33.2 555.4,33.2 556.3,33.2 557.2,33.2 558.1,33.2 559.1,33.2 560.0,33.2 560.9,33.2 561.9,33.2 562.8,33.2 563.7,33.2 564.6,32.5 565.5,32.3 566.5,32.1 567.4,31.9 568.3,31.7 569.2,31.5 570.2,31.3 571.1,31.1 572.0,30.9 573.0,30.6 573.9,30.4 574.8,30.1 575.7,29.9 576.7,29.9 577.6,29.9 578.5,29.9 579.4,29.8 580.4,29.6 581.3,29.3 582.2,29.1 583.1,28.8 584.1,28.6 585.0,27.9 585.9,27.7 586.8,27.4 587.8,27.2 588.7,26.9 589.6,26.7 590.5,26.5 591.5,26.3 592.4,25.8 593.3,25.6 594.2,25.4 595.1,25.2 596.1,25.1 597.0,24.9 597.9,24.7 598.9,24.6 599.8,24.4 600.7,22.5 601.6,22.3 602.6,22.2 603.5,22.0 604.4,21.8 605.3,21.7 606.2,21.5 607.2,21.3 608.1,21.2 609.0,21.0 610.0,20.8 610.9,20.7 611.8,20.7 612.7,20.7 613.7,20.7 614.6,20.7 615.5,20.7 616.4,20.7 617.4,20.7 618.3,20.7 619.2,20.7 620.1,20.7 621.1,20.7 622.0,20.7 622.9,19.8 623.8,19.6 624.8,19.4 625.7,19.3 626.6,19.1 627.5,18.4 628.5,18.2 629.4,18.0 630.3,17.7 631.2,17.5 632.2,17.3 633.1,17.1 634.0,16.9 634.9,16.7 635.9,16.5 636.8,16.3 637.7,16.3 638.6,16.3 639.6,16.3 640.5,16.3 641.4,16.3 642.3,16.3 643.2,16.3 644.2,16.3 645.1,16.2 646.0,16.1 647.0,16.0 647.9,15.9 648.8,15.7 649.7,15.6 650.7,15.5 651.6,15.4 652.5,15.3 653.4,15.2 654.4,15.1 655.3,14.8 656.2,14.6 657.1,14.4 658.1,14.1 659.0,13.9 659.9,13.6 660.8,13.4 661.8,13.2 662.7,12.9 663.6,12.7 663.6,23.8 662.7,24.5 661.8,25.3 660.8,26.0 659.9,27.0 659.0,27.9 658.1,28.9 657.1,29.8 656.2,29.8 655.3,29.8 654.4,29.8 653.4,29.8 652.5,29.8 651.6,30.2 650.7,30.6 649.7,31.1 648.8,31.6 647.9,33.2 647.0,33.6 646.0,34.1 645.1,34.6 644.2,35.1 643.2,35.5 642.3,35.9 641.4,36.0 640.5,36.1 639.6,36.1 638.6,36.2 637.7,36.3 636.8,38.1 635.9,38.2 634.9,38.3 634.0,38.4 633.1,38.5 632.2,38.6 631.2,39.5 630.3,39.6 629.4,40.2 628.5,40.9 627.5,41.6 626.6,42.2 625.7,42.6 624.8,42.6 623.8,42.6 622.9,42.6 622.0,42.6 621.1,42.6 620.1,42.6 619.2,42.6 618.3,42.6 617.4,42.6 616.4,42.6 615.5,42.6 614.6,42.6 613.7,42.6 612.7,42.6 611.8,42.6 610.9,42.7 610.0,42.9 609.0,43.0 608.1,43.2 607.2,43.3 606.2,43.5 605.3,43.6 604.4,43.8 603.5,45.1 602.6,47.6 601.6,48.9 600.7,49.2 599.8,49.2 598.9,49.2 597.9,49.2 597.0,49.2 596.1,49.2 595.1,49.2 594.2,49.2 593.3,49.2 592.4,49.2 591.5,49.2 590.5,49.2 589.6,49.2 588.7,49.5 587.8,49.7 586.8,52.7 585.9,52.9 585.0,53.1 584.1,53.3 583.1,53.5 582.2,53.9 581.3,54.3 580.4,54.6 579.4,55.0 578.5,55.4 577.6,55.9 576.7,56.3 575.7,56.6 574.8,56.9 573.9,56.9 573.0,56.9 572.0,56.9 571.1,56.9 570.2,56.9 569.2,56.9 568.3,57.3 567.4,58.8 566.5,59.0 565.5,59.0 564.6,59.0 563.7,59.0 562.8,59.0 561.9,59.0 560.9,59.0 560.0,59.0 559.1,59.0 558.1,59.0 557.2,59.6 556.3,60.2 555.4,60.8 554.5,61.4 553.5,62.1 552.6,64.0 551.7,64.2 550.8,64.5 549.8,64.7 548.9,65.0 548.0,65.2 547.1,65.5 546.1,65.7 545.2,66.0 544.3,66.2 543.4,66.5 542.4,66.9 541.5,66.9 540.6,66.9 539.6,67.6 538.7,68.2 537.8,68.9 536.9,69.6 536.0,70.2 535.0,70.9 534.1,71.6 533.2,72.5 532.2,75.4 531.3,76.3 530.4,77.2 529.5,78.1 528.6,79.1 527.6,80.0 526.7,80.9 525.8,83.2 524.9,84.1 523.9,85.0 523.0,85.9 522.1,86.8 521.1,87.7 520.2,88.6 519.3,89.5 518.4,90.5 517.5,91.4 516.5,91.4 515.6,92.3 514.7,93.2 513.8,94.1 512.8,94.8 511.9,95.9 511.0,97.0 510.1,98.0 509.1,99.1 508.2,100.2 507.3,101.2 506.4,102.6 505.4,103.6 504.5,104.7 503.6,105.8 502.7,106.8 501.7,107.9 500.8,108.9 499.9,110.0 499.0,111.0 498.0,112.1 497.1,113.1 496.2,114.2 495.2,116.6 494.3,118.1 493.4,120.5 492.5,122.9 491.6,125.3 490.6,127.7 489.7,130.1 488.8,132.9 487.9,135.7 487.5,136.8 487.1,138.0 486.7,139.1 486.4,140.2 486.0,141.3 485.6,144.2 485.3,145.3 484.9,146.4 484.5,147.6 484.2,148.7 483.8,148.8 483.4,150.3 483.0,151.7 482.7,153.1 482.3,154.5 481.9,156.0 481.6,157.5 481.2,159.7 480.8,162.7 480.5,165.7 480.1,168.8 479.7,171.8 479.3,174.8 479.0,177.8 478.6,180.6"/>
<polyline fill="none" stroke="#4285f4" stroke-width="1.25" stroke-opacity="0.95" stroke-linejoin="round" filter="url(#bl)" points="478.6,180.6 479.0,174.0 479.3,167.3 479.7,160.5 480.1,153.8 480.5,147.1 480.8,144.7 481.2,142.4 481.6,140.2 481.9,138.0 482.3,135.7 482.7,133.5 483.0,131.3 483.4,129.6 483.8,128.2 484.2,127.0 484.5,125.6 484.9,124.4 485.3,123.0 485.6,121.7 486.0,120.3 486.4,119.2 486.7,117.9 487.1,116.5 487.5,115.2 487.9,113.8 488.8,111.7 489.7,109.6 490.6,106.7 491.6,104.6 492.5,103.0 493.4,101.3 494.3,100.3 495.2,98.6 496.2,96.9 497.1,95.2 498.0,93.5 499.0,91.9 499.9,90.2 500.8,88.3 501.7,87.2 502.7,86.2 503.6,85.1 504.5,84.0 505.4,82.9 506.4,81.9 507.3,80.4 508.2,79.5 509.1,79.0 510.1,78.4 511.0,77.8 511.9,77.3 512.8,76.7 513.8,76.2 514.7,75.7 515.6,75.1 516.5,74.6 517.5,74.1 518.4,73.5 519.3,72.7 520.2,71.8 521.1,71.6 522.1,70.7 523.0,69.8 523.9,68.9 524.9,67.6 525.8,66.7 526.7,65.8 527.6,64.8 528.6,63.9 529.5,62.5 530.4,61.5 531.3,60.6 532.2,59.8 533.2,58.9 534.1,58.1 535.0,57.5 536.0,57.0 536.9,56.9 537.8,56.4 538.7,55.9 539.6,55.3 540.6,54.8 541.5,54.3 542.4,53.9 543.4,53.2 544.3,52.8 545.2,52.5 546.1,52.5 547.1,52.3 548.0,52.0 548.9,51.6 549.8,51.2 550.8,50.1 551.7,49.7 552.6,49.3 553.5,48.9 554.5,48.5 555.4,48.5 556.3,48.0 557.2,47.6 558.1,47.2 559.1,46.8 560.0,46.3 560.9,45.9 561.9,45.4 562.8,45.0 563.7,44.5 564.6,44.1 565.5,43.7 566.5,43.6 567.4,43.2 568.3,42.8 569.2,42.6 570.2,42.4 571.1,42.2 572.0,41.6 573.0,41.4 573.9,41.1 574.8,40.9 575.7,40.9 576.7,40.7 577.6,40.5 578.5,40.3 579.4,40.1 580.4,39.4 581.3,39.2 582.2,39.0 583.1,38.8 584.1,38.7 585.0,38.6 585.9,38.5 586.8,38.5 587.8,38.5 588.7,38.5 589.6,38.5 590.5,38.5 591.5,38.5 592.4,38.5 593.3,38.5 594.2,38.5 595.1,37.5 596.1,37.4 597.0,37.3 597.9,37.2 598.9,37.2 599.8,37.2 600.7,37.1 601.6,36.1 602.6,35.6 603.5,35.1 604.4,34.6 605.3,34.0 606.2,33.5 607.2,33.5 608.1,33.1 609.0,33.0 610.0,33.0 610.9,32.9 611.8,32.9 612.7,32.7 613.7,32.6 614.6,32.6 615.5,32.6 616.4,32.5 617.4,32.5 618.3,32.5 619.2,32.4 620.1,32.4 621.1,32.3 622.0,32.3 622.9,32.3 623.8,32.0 624.8,31.6 625.7,30.9 626.6,30.3 627.5,29.7 628.5,29.2 629.4,28.9 630.3,28.5 631.2,28.2 632.2,27.9 633.1,27.5 634.0,27.1 634.9,27.1 635.9,27.1 636.8,27.1 637.7,27.1 638.6,27.1 639.6,27.1 640.5,27.1 641.4,27.0 642.3,26.7 643.2,26.3 644.2,25.9 645.1,25.4 646.0,25.0 647.0,24.7 647.9,24.3 648.8,24.0 649.7,23.6 650.7,23.3 651.6,22.9 652.5,22.5 653.4,22.2 654.4,21.8 655.3,21.4 656.2,21.2 657.1,20.7 658.1,20.3 659.0,19.8 659.9,19.3 660.8,18.6 661.8,17.8 662.7,17.1 663.6,16.4"/>
</g>
<text x="478.6" y="194.3" font-size="7" text-anchor="middle">0.0</text><text x="470.9" y="183.5" font-size="7" text-anchor="end">0.0</text><text x="515.6" y="194.3" font-size="7" text-anchor="middle">0.2</text><text x="470.9" y="149.9" font-size="7" text-anchor="end">0.2</text><text x="552.6" y="194.3" font-size="7" text-anchor="middle">0.4</text><text x="470.9" y="116.3" font-size="7" text-anchor="end">0.4</text><text x="589.6" y="194.3" font-size="7" text-anchor="middle">0.6</text><text x="470.9" y="82.8" font-size="7" text-anchor="end">0.6</text><text x="626.6" y="194.3" font-size="7" text-anchor="middle">0.8</text><text x="470.9" y="49.2" font-size="7" text-anchor="end">0.8</text><text x="663.6" y="194.3" font-size="7" text-anchor="middle">1.0</text><text x="470.9" y="15.6" font-size="7" text-anchor="end">1.0</text>
<text x="570.2" y="8.1" font-size="10.15" text-anchor="middle">Gap Length 30 Minutes</text>
<text x="570.2" y="205" font-size="8.8" text-anchor="middle">1 - Specificity</text>
<text transform="translate(455.6 97.2) rotate(-90)" font-size="8.8" text-anchor="middle">Sensitivity</text>
<rect x="476.9" y="216.3" width="186.3" height="46.9" rx="1.6" fill="#eaeaf2" fill-opacity="0.8" stroke="#cccccc" stroke-width="0.6"/>
<path d="M482.9 222.7H495.6" stroke="#ff5a4d" stroke-width="1.5"/><text x="501.1" y="225.5" font-size="7.6">LSTM Internal AUC: 0.802 (0.759-0.844)</text>
<path d="M482.9 233.9H495.6" stroke="#a4c639" stroke-width="1.5"/><text x="501.1" y="236.8" font-size="7.6">LSTM External AUC: 0.758 (0.735-0.782)</text>
<path d="M482.9 245.2H495.6" stroke="#4285f4" stroke-width="1.5"/><text x="501.1" y="248.0" font-size="7.6">GRD-D Internal AUC: 0.762 (0.698-0.818)</text>
<path d="M482.9 256.4H495.6" stroke="#f032e6" stroke-width="1.5"/><text x="501.1" y="259.2" font-size="7.6">GRU-D External AUC: 0.793 (0.768-0.817)</text>
</g>
</svg>
</body></html>
